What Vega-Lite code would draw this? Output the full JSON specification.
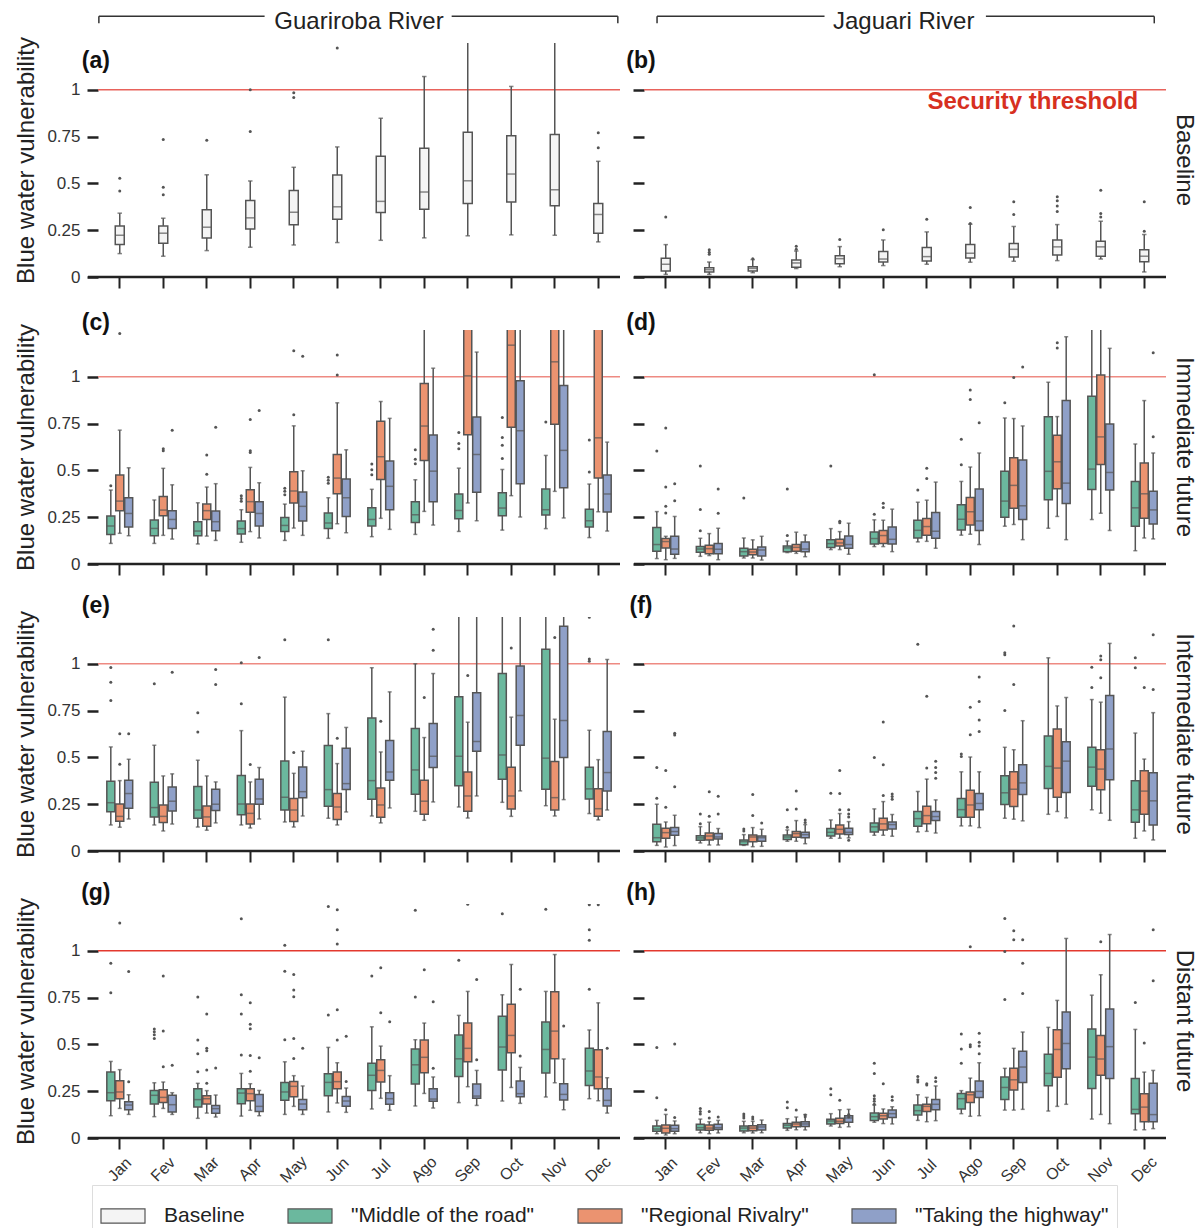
{
"$schema":"https://vega.github.io/schema/vega-lite/v6.json",
"padding":{"left":14,"top":10,"right":2,"bottom":0},
"background":"white",
"datasets":{
"threshold":[{"threshold":1}],
"box_a":[
{"month":"Jan","scenario":"Baseline","min":0.125,"q1":0.173,"median":0.223,"q3":0.273,"max":0.341},
{"month":"Fev","scenario":"Baseline","min":0.111,"q1":0.18,"median":0.234,"q3":0.273,"max":0.314},
{"month":"Mar","scenario":"Baseline","min":0.141,"q1":0.209,"median":0.266,"q3":0.359,"max":0.546},
{"month":"Apr","scenario":"Baseline","min":0.159,"q1":0.257,"median":0.316,"q3":0.409,"max":0.513},
{"month":"May","scenario":"Baseline","min":0.171,"q1":0.279,"median":0.346,"q3":0.4625,"max":0.586},
{"month":"Jun","scenario":"Baseline","min":0.184,"q1":0.309,"median":0.375,"q3":0.545,"max":0.695},
{"month":"Jul","scenario":"Baseline","min":0.196,"q1":0.345,"median":0.404,"q3":0.645,"max":0.848},
{"month":"Ago","scenario":"Baseline","min":0.209,"q1":0.3625,"median":0.454,"q3":0.6875,"max":1.071},
{"month":"Sep","scenario":"Baseline","min":0.22,"q1":0.393,"median":0.514,"q3":0.773,"max":1.45},
{"month":"Oct","scenario":"Baseline","min":0.225,"q1":0.4,"median":0.55,"q3":0.755,"max":1.018},
{"month":"Nov","scenario":"Baseline","min":0.223,"q1":0.38,"median":0.466,"q3":0.761,"max":1.42},
{"month":"Dec","scenario":"Baseline","min":0.1875,"q1":0.234,"median":0.334,"q3":0.393,"max":0.618}],
"out_a":[
{"month":"Jan","scenario":"Baseline","value":0.527},{"month":"Jan","scenario":"Baseline","value":0.459},
{"month":"Fev","scenario":"Baseline","value":0.734},{"month":"Fev","scenario":"Baseline","value":0.479},{"month":"Fev","scenario":"Baseline","value":0.439},
{"month":"Mar","scenario":"Baseline","value":0.73},
{"month":"Apr","scenario":"Baseline","value":1.0},{"month":"Apr","scenario":"Baseline","value":0.777},
{"month":"May","scenario":"Baseline","value":0.984},{"month":"May","scenario":"Baseline","value":0.959},
{"month":"Jun","scenario":"Baseline","value":1.223},
{"month":"Dec","scenario":"Baseline","value":0.771},{"month":"Dec","scenario":"Baseline","value":0.691}],
"box_b":[
{"month":"Jan","scenario":"Baseline","min":0.014,"q1":0.032,"median":0.068,"q3":0.1,"max":0.173},
{"month":"Fev","scenario":"Baseline","min":0.014,"q1":0.027,"median":0.039,"q3":0.05,"max":0.08},
{"month":"Mar","scenario":"Baseline","min":0.023,"q1":0.032,"median":0.046,"q3":0.055,"max":0.093},
{"month":"Apr","scenario":"Baseline","min":0.045,"q1":0.052,"median":0.075,"q3":0.091,"max":0.139},
{"month":"May","scenario":"Baseline","min":0.055,"q1":0.071,"median":0.098,"q3":0.114,"max":0.1625},
{"month":"Jun","scenario":"Baseline","min":0.061,"q1":0.08,"median":0.096,"q3":0.136,"max":0.198},
{"month":"Jul","scenario":"Baseline","min":0.068,"q1":0.086,"median":0.109,"q3":0.157,"max":0.241},
{"month":"Ago","scenario":"Baseline","min":0.079,"q1":0.102,"median":0.127,"q3":0.173,"max":0.282},
{"month":"Sep","scenario":"Baseline","min":0.084,"q1":0.107,"median":0.148,"q3":0.179,"max":0.27},
{"month":"Oct","scenario":"Baseline","min":0.0875,"q1":0.118,"median":0.161,"q3":0.198,"max":0.28},
{"month":"Nov","scenario":"Baseline","min":0.096,"q1":0.111,"median":0.161,"q3":0.191,"max":0.298},
{"month":"Dec","scenario":"Baseline","min":0.027,"q1":0.082,"median":0.111,"q3":0.145,"max":0.227}],
"out_b":[
{"month":"Jan","scenario":"Baseline","value":0.32},
{"month":"Fev","scenario":"Baseline","value":0.145},{"month":"Fev","scenario":"Baseline","value":0.132},{"month":"Fev","scenario":"Baseline","value":0.121},
{"month":"Mar","scenario":"Baseline","value":0.098},
{"month":"Apr","scenario":"Baseline","value":0.164},{"month":"Apr","scenario":"Baseline","value":0.148},
{"month":"May","scenario":"Baseline","value":0.2},
{"month":"Jun","scenario":"Baseline","value":0.252},
{"month":"Jul","scenario":"Baseline","value":0.309},
{"month":"Ago","scenario":"Baseline","value":0.371},{"month":"Ago","scenario":"Baseline","value":0.286},
{"month":"Sep","scenario":"Baseline","value":0.402},{"month":"Sep","scenario":"Baseline","value":0.334},
{"month":"Oct","scenario":"Baseline","value":0.429},{"month":"Oct","scenario":"Baseline","value":0.407},{"month":"Oct","scenario":"Baseline","value":0.379},{"month":"Oct","scenario":"Baseline","value":0.35},
{"month":"Nov","scenario":"Baseline","value":0.464},{"month":"Nov","scenario":"Baseline","value":0.339},{"month":"Nov","scenario":"Baseline","value":0.321},
{"month":"Dec","scenario":"Baseline","value":0.402},{"month":"Dec","scenario":"Baseline","value":0.245}],
"box_c":[
{"month":"Jan","scenario":"Middle of the road","min":0.11,"q1":0.158,"median":0.203,"q3":0.256,"max":0.395},
{"month":"Jan","scenario":"Regional Rivalry","min":0.164,"q1":0.285,"median":0.336,"q3":0.475,"max":0.715},
{"month":"Jan","scenario":"Taking the highway","min":0.151,"q1":0.1975,"median":0.27,"q3":0.354,"max":0.514},
{"month":"Fev","scenario":"Middle of the road","min":0.11,"q1":0.151,"median":0.19,"q3":0.235,"max":0.342},
{"month":"Fev","scenario":"Regional Rivalry","min":0.153,"q1":0.258,"median":0.288,"q3":0.361,"max":0.511},
{"month":"Fev","scenario":"Taking the highway","min":0.133,"q1":0.189,"median":0.238,"q3":0.285,"max":0.423},
{"month":"Mar","scenario":"Middle of the road","min":0.107,"q1":0.151,"median":0.176,"q3":0.226,"max":0.327},
{"month":"Mar","scenario":"Regional Rivalry","min":0.149,"q1":0.238,"median":0.285,"q3":0.32,"max":0.411},
{"month":"Mar","scenario":"Taking the highway","min":0.126,"q1":0.178,"median":0.226,"q3":0.283,"max":0.429},
{"month":"Apr","scenario":"Middle of the road","min":0.116,"q1":0.16,"median":0.189,"q3":0.23,"max":0.29},
{"month":"Apr","scenario":"Regional Rivalry","min":0.173,"q1":0.276,"median":0.333,"q3":0.397,"max":0.516},
{"month":"Apr","scenario":"Taking the highway","min":0.139,"q1":0.203,"median":0.27,"q3":0.333,"max":0.434},
{"month":"May","scenario":"Middle of the road","min":0.126,"q1":0.174,"median":0.206,"q3":0.249,"max":0.32},
{"month":"May","scenario":"Regional Rivalry","min":0.192,"q1":0.326,"median":0.39,"q3":0.493,"max":0.738},
{"month":"May","scenario":"Taking the highway","min":0.153,"q1":0.23,"median":0.308,"q3":0.384,"max":0.498},
{"month":"Jun","scenario":"Middle of the road","min":0.137,"q1":0.19,"median":0.219,"q3":0.272,"max":0.354},
{"month":"Jun","scenario":"Regional Rivalry","min":0.215,"q1":0.375,"median":0.459,"q3":0.585,"max":0.861},
{"month":"Jun","scenario":"Taking the highway","min":0.167,"q1":0.254,"median":0.354,"q3":0.454,"max":0.61},
{"month":"Jul","scenario":"Middle of the road","min":0.146,"q1":0.203,"median":0.238,"q3":0.301,"max":0.399},
{"month":"Jul","scenario":"Regional Rivalry","min":0.244,"q1":0.452,"median":0.573,"q3":0.763,"max":0.868},
{"month":"Jul","scenario":"Taking the highway","min":0.185,"q1":0.29,"median":0.415,"q3":0.55,"max":0.778},
{"month":"Ago","scenario":"Middle of the road","min":0.158,"q1":0.222,"median":0.263,"q3":0.333,"max":0.45},
{"month":"Ago","scenario":"Regional Rivalry","min":0.281,"q1":0.553,"median":0.737,"q3":0.964,"max":1.45},
{"month":"Ago","scenario":"Taking the highway","min":0.208,"q1":0.333,"median":0.496,"q3":0.689,"max":1.046},
{"month":"Sep","scenario":"Middle of the road","min":0.174,"q1":0.242,"median":0.286,"q3":0.374,"max":0.512},
{"month":"Sep","scenario":"Regional Rivalry","min":0.326,"q1":0.69,"median":1.005,"q3":1.35,"max":1.5},
{"month":"Sep","scenario":"Taking the highway","min":0.231,"q1":0.383,"median":0.585,"q3":0.785,"max":1.132},
{"month":"Oct","scenario":"Middle of the road","min":0.181,"q1":0.258,"median":0.299,"q3":0.381,"max":0.505},
{"month":"Oct","scenario":"Regional Rivalry","min":0.365,"q1":0.731,"median":1.169,"q3":1.4,"max":1.5},
{"month":"Oct","scenario":"Taking the highway","min":0.251,"q1":0.429,"median":0.712,"q3":0.979,"max":1.45},
{"month":"Nov","scenario":"Middle of the road","min":0.189,"q1":0.262,"median":0.29,"q3":0.4,"max":0.58},
{"month":"Nov","scenario":"Regional Rivalry","min":0.388,"q1":0.747,"median":1.08,"q3":1.38,"max":1.5},
{"month":"Nov","scenario":"Taking the highway","min":0.246,"q1":0.407,"median":0.607,"q3":0.954,"max":1.45},
{"month":"Dec","scenario":"Middle of the road","min":0.141,"q1":0.1975,"median":0.231,"q3":0.292,"max":0.427},
{"month":"Dec","scenario":"Regional Rivalry","min":0.279,"q1":0.459,"median":0.674,"q3":1.3,"max":1.5},
{"month":"Dec","scenario":"Taking the highway","min":0.176,"q1":0.278,"median":0.374,"q3":0.475,"max":0.651}],
"out_c":[
{"month":"Jan","scenario":"Middle of the road","value":0.418},{"month":"Jan","scenario":"Regional Rivalry","value":1.231},
{"month":"Fev","scenario":"Regional Rivalry","value":0.616},{"month":"Fev","scenario":"Regional Rivalry","value":0.605},{"month":"Fev","scenario":"Taking the highway","value":0.715},
{"month":"Mar","scenario":"Regional Rivalry","value":0.582},{"month":"Mar","scenario":"Regional Rivalry","value":0.479},{"month":"Mar","scenario":"Taking the highway","value":0.73},
{"month":"Apr","scenario":"Middle of the road","value":0.365},{"month":"Apr","scenario":"Middle of the road","value":0.35},{"month":"Apr","scenario":"Middle of the road","value":0.335},
{"month":"Apr","scenario":"Regional Rivalry","value":0.772},{"month":"Apr","scenario":"Regional Rivalry","value":0.605},{"month":"Apr","scenario":"Regional Rivalry","value":0.596},{"month":"Apr","scenario":"Taking the highway","value":0.82},
{"month":"May","scenario":"Middle of the road","value":0.404},{"month":"May","scenario":"Middle of the road","value":0.388},{"month":"May","scenario":"Middle of the road","value":0.37},
{"month":"May","scenario":"Regional Rivalry","value":1.139},{"month":"May","scenario":"Regional Rivalry","value":0.797},{"month":"May","scenario":"Taking the highway","value":1.11},
{"month":"Jun","scenario":"Middle of the road","value":0.463},{"month":"Jun","scenario":"Middle of the road","value":0.448},{"month":"Jun","scenario":"Middle of the road","value":0.432},
{"month":"Jun","scenario":"Regional Rivalry","value":1.117},{"month":"Jun","scenario":"Regional Rivalry","value":1.009},
{"month":"Jul","scenario":"Middle of the road","value":0.534},{"month":"Jul","scenario":"Middle of the road","value":0.504},{"month":"Jul","scenario":"Middle of the road","value":0.477},
{"month":"Ago","scenario":"Middle of the road","value":0.61},{"month":"Ago","scenario":"Middle of the road","value":0.559},{"month":"Ago","scenario":"Middle of the road","value":0.536},
{"month":"Sep","scenario":"Middle of the road","value":0.703},{"month":"Sep","scenario":"Middle of the road","value":0.644},{"month":"Sep","scenario":"Middle of the road","value":0.616},
{"month":"Oct","scenario":"Middle of the road","value":0.783},{"month":"Oct","scenario":"Middle of the road","value":0.676},{"month":"Oct","scenario":"Middle of the road","value":0.635},{"month":"Oct","scenario":"Middle of the road","value":0.564},
{"month":"Nov","scenario":"Middle of the road","value":0.758},
{"month":"Dec","scenario":"Middle of the road","value":0.662},{"month":"Dec","scenario":"Middle of the road","value":0.491}],
"box_d":[
{"month":"Jan","scenario":"Middle of the road","min":0.029,"q1":0.068,"median":0.104,"q3":0.195,"max":0.28},
{"month":"Jan","scenario":"Regional Rivalry","min":0.023,"q1":0.086,"median":0.12,"q3":0.136,"max":0.148},
{"month":"Jan","scenario":"Taking the highway","min":0.03,"q1":0.052,"median":0.08,"q3":0.148,"max":0.254},
{"month":"Fev","scenario":"Middle of the road","min":0.041,"q1":0.0625,"median":0.08,"q3":0.093,"max":0.1375},
{"month":"Fev","scenario":"Regional Rivalry","min":0.045,"q1":0.055,"median":0.082,"q3":0.1,"max":0.1625},
{"month":"Fev","scenario":"Taking the highway","min":0.023,"q1":0.055,"median":0.079,"q3":0.109,"max":0.191},
{"month":"Mar","scenario":"Middle of the road","min":0.032,"q1":0.043,"median":0.066,"q3":0.084,"max":0.139},
{"month":"Mar","scenario":"Regional Rivalry","min":0.032,"q1":0.05,"median":0.064,"q3":0.079,"max":0.129},
{"month":"Mar","scenario":"Taking the highway","min":0.021,"q1":0.043,"median":0.075,"q3":0.091,"max":0.148},
{"month":"Apr","scenario":"Middle of the road","min":0.061,"q1":0.066,"median":0.086,"q3":0.096,"max":0.123},
{"month":"Apr","scenario":"Regional Rivalry","min":0.057,"q1":0.068,"median":0.089,"q3":0.104,"max":0.17},
{"month":"Apr","scenario":"Taking the highway","min":0.039,"q1":0.066,"median":0.08,"q3":0.118,"max":0.155},
{"month":"May","scenario":"Middle of the road","min":0.077,"q1":0.0875,"median":0.109,"q3":0.13,"max":0.189},
{"month":"May","scenario":"Regional Rivalry","min":0.077,"q1":0.096,"median":0.1125,"q3":0.132,"max":0.173},
{"month":"May","scenario":"Taking the highway","min":0.052,"q1":0.084,"median":0.104,"q3":0.15,"max":0.218},
{"month":"Jun","scenario":"Middle of the road","min":0.093,"q1":0.107,"median":0.136,"q3":0.171,"max":0.236},
{"month":"Jun","scenario":"Regional Rivalry","min":0.093,"q1":0.109,"median":0.152,"q3":0.179,"max":0.234},
{"month":"Jun","scenario":"Taking the highway","min":0.066,"q1":0.107,"median":0.132,"q3":0.198,"max":0.293},
{"month":"Jul","scenario":"Middle of the road","min":0.118,"q1":0.139,"median":0.18,"q3":0.234,"max":0.33},
{"month":"Jul","scenario":"Regional Rivalry","min":0.121,"q1":0.154,"median":0.2,"q3":0.243,"max":0.341},
{"month":"Jul","scenario":"Taking the highway","min":0.084,"q1":0.1375,"median":0.175,"q3":0.275,"max":0.4375},
{"month":"Ago","scenario":"Middle of the road","min":0.154,"q1":0.182,"median":0.239,"q3":0.316,"max":0.441},
{"month":"Ago","scenario":"Regional Rivalry","min":0.159,"q1":0.209,"median":0.279,"q3":0.355,"max":0.518},
{"month":"Ago","scenario":"Taking the highway","min":0.104,"q1":0.179,"median":0.23,"q3":0.4,"max":0.593},
{"month":"Sep","scenario":"Middle of the road","min":0.202,"q1":0.25,"median":0.336,"q3":0.495,"max":0.78},
{"month":"Sep","scenario":"Regional Rivalry","min":0.211,"q1":0.298,"median":0.42,"q3":0.568,"max":0.777},
{"month":"Sep","scenario":"Taking the highway","min":0.13,"q1":0.2375,"median":0.311,"q3":0.555,"max":0.7375},
{"month":"Oct","scenario":"Middle of the road","min":0.191,"q1":0.343,"median":0.495,"q3":0.786,"max":0.971},
{"month":"Oct","scenario":"Regional Rivalry","min":0.254,"q1":0.402,"median":0.546,"q3":0.6875,"max":0.7875},
{"month":"Oct","scenario":"Taking the highway","min":0.13,"q1":0.323,"median":0.432,"q3":0.873,"max":1.214},
{"month":"Nov","scenario":"Middle of the road","min":0.2375,"q1":0.398,"median":0.507,"q3":0.896,"max":1.45},
{"month":"Nov","scenario":"Regional Rivalry","min":0.271,"q1":0.532,"median":0.679,"q3":1.009,"max":1.45},
{"month":"Nov","scenario":"Taking the highway","min":0.179,"q1":0.395,"median":0.489,"q3":0.748,"max":1.152},
{"month":"Dec","scenario":"Middle of the road","min":0.071,"q1":0.202,"median":0.3,"q3":0.441,"max":0.641},
{"month":"Dec","scenario":"Regional Rivalry","min":0.139,"q1":0.245,"median":0.375,"q3":0.539,"max":0.873},
{"month":"Dec","scenario":"Taking the highway","min":0.134,"q1":0.214,"median":0.289,"q3":0.389,"max":0.593}],
"out_d":[
{"month":"Jan","scenario":"Middle of the road","value":0.604},
{"month":"Jan","scenario":"Regional Rivalry","value":0.727},{"month":"Jan","scenario":"Regional Rivalry","value":0.411},{"month":"Jan","scenario":"Regional Rivalry","value":0.309},{"month":"Jan","scenario":"Regional Rivalry","value":0.273},
{"month":"Jan","scenario":"Taking the highway","value":0.429},{"month":"Jan","scenario":"Taking the highway","value":0.3375},
{"month":"Fev","scenario":"Middle of the road","value":0.523},{"month":"Fev","scenario":"Middle of the road","value":0.291},{"month":"Fev","scenario":"Middle of the road","value":0.177},
{"month":"Fev","scenario":"Taking the highway","value":0.4},{"month":"Fev","scenario":"Taking the highway","value":0.271},
{"month":"Mar","scenario":"Middle of the road","value":0.352},
{"month":"Apr","scenario":"Middle of the road","value":0.4},{"month":"Apr","scenario":"Middle of the road","value":0.152},
{"month":"May","scenario":"Middle of the road","value":0.523},{"month":"May","scenario":"Regional Rivalry","value":0.229},{"month":"May","scenario":"Regional Rivalry","value":0.22},
{"month":"Jun","scenario":"Middle of the road","value":1.011},{"month":"Jun","scenario":"Middle of the road","value":0.266},{"month":"Jun","scenario":"Regional Rivalry","value":0.325},{"month":"Jun","scenario":"Regional Rivalry","value":0.302},
{"month":"Jul","scenario":"Middle of the road","value":0.395},{"month":"Jul","scenario":"Regional Rivalry","value":0.511},{"month":"Jul","scenario":"Regional Rivalry","value":0.457},
{"month":"Ago","scenario":"Middle of the road","value":0.666},{"month":"Ago","scenario":"Middle of the road","value":0.53},{"month":"Ago","scenario":"Regional Rivalry","value":0.929},{"month":"Ago","scenario":"Regional Rivalry","value":0.879},{"month":"Ago","scenario":"Taking the highway","value":0.754},
{"month":"Sep","scenario":"Middle of the road","value":0.861},{"month":"Sep","scenario":"Regional Rivalry","value":0.996},{"month":"Sep","scenario":"Taking the highway","value":1.052},
{"month":"Oct","scenario":"Regional Rivalry","value":1.182},{"month":"Oct","scenario":"Regional Rivalry","value":1.154},
{"month":"Dec","scenario":"Taking the highway","value":1.129},{"month":"Dec","scenario":"Taking the highway","value":0.68}],
"box_e":[
{"month":"Jan","scenario":"Middle of the road","min":0.139,"q1":0.21,"median":0.258,"q3":0.3725,"max":0.556},
{"month":"Jan","scenario":"Regional Rivalry","min":0.127,"q1":0.159,"median":0.185,"q3":0.251,"max":0.376},
{"month":"Jan","scenario":"Taking the highway","min":0.171,"q1":0.228,"median":0.307,"q3":0.378,"max":0.49},
{"month":"Fev","scenario":"Middle of the road","min":0.139,"q1":0.182,"median":0.232,"q3":0.367,"max":0.565},
{"month":"Fev","scenario":"Regional Rivalry","min":0.107,"q1":0.152,"median":0.185,"q3":0.246,"max":0.401},
{"month":"Fev","scenario":"Taking the highway","min":0.144,"q1":0.214,"median":0.266,"q3":0.342,"max":0.412},
{"month":"Mar","scenario":"Middle of the road","min":0.128,"q1":0.175,"median":0.219,"q3":0.344,"max":0.485},
{"month":"Mar","scenario":"Regional Rivalry","min":0.111,"q1":0.132,"median":0.182,"q3":0.241,"max":0.401},
{"month":"Mar","scenario":"Taking the highway","min":0.15,"q1":0.216,"median":0.25,"q3":0.33,"max":0.369},
{"month":"Apr","scenario":"Middle of the road","min":0.139,"q1":0.194,"median":0.251,"q3":0.403,"max":0.643},
{"month":"Apr","scenario":"Regional Rivalry","min":0.123,"q1":0.144,"median":0.201,"q3":0.251,"max":0.369},
{"month":"Apr","scenario":"Taking the highway","min":0.171,"q1":0.25,"median":0.278,"q3":0.383,"max":0.446},
{"month":"May","scenario":"Middle of the road","min":0.155,"q1":0.219,"median":0.287,"q3":0.481,"max":0.822},
{"month":"May","scenario":"Regional Rivalry","min":0.128,"q1":0.157,"median":0.219,"q3":0.28,"max":0.415},
{"month":"May","scenario":"Taking the highway","min":0.187,"q1":0.285,"median":0.317,"q3":0.449,"max":0.533},
{"month":"Jun","scenario":"Middle of the road","min":0.175,"q1":0.239,"median":0.328,"q3":0.563,"max":0.734},
{"month":"Jun","scenario":"Regional Rivalry","min":0.139,"q1":0.168,"median":0.235,"q3":0.307,"max":0.467},
{"month":"Jun","scenario":"Taking the highway","min":0.2085,"q1":0.328,"median":0.36,"q3":0.549,"max":0.66},
{"month":"Jul","scenario":"Middle of the road","min":0.187,"q1":0.276,"median":0.376,"q3":0.711,"max":0.979},
{"month":"Jul","scenario":"Regional Rivalry","min":0.15,"q1":0.18,"median":0.246,"q3":0.337,"max":0.529},
{"month":"Jul","scenario":"Taking the highway","min":0.23,"q1":0.378,"median":0.422,"q3":0.59,"max":0.85},
{"month":"Ago","scenario":"Middle of the road","min":0.212,"q1":0.303,"median":0.433,"q3":0.654,"max":1.0},
{"month":"Ago","scenario":"Regional Rivalry","min":0.164,"q1":0.196,"median":0.266,"q3":0.378,"max":0.606},
{"month":"Ago","scenario":"Taking the highway","min":0.262,"q1":0.446,"median":0.506,"q3":0.681,"max":0.948},
{"month":"Sep","scenario":"Middle of the road","min":0.235,"q1":0.349,"median":0.506,"q3":0.824,"max":1.45},
{"month":"Sep","scenario":"Regional Rivalry","min":0.176,"q1":0.212,"median":0.294,"q3":0.422,"max":0.688},
{"month":"Sep","scenario":"Taking the highway","min":0.294,"q1":0.533,"median":0.585,"q3":0.845,"max":1.45},
{"month":"Oct","scenario":"Middle of the road","min":0.26,"q1":0.383,"median":0.513,"q3":0.948,"max":1.45},
{"month":"Oct","scenario":"Regional Rivalry","min":0.185,"q1":0.2245,"median":0.294,"q3":0.447,"max":0.715},
{"month":"Oct","scenario":"Taking the highway","min":0.321,"q1":0.565,"median":0.724,"q3":0.988,"max":1.45},
{"month":"Nov","scenario":"Middle of the road","min":0.242,"q1":0.33,"median":0.496,"q3":1.078,"max":1.45},
{"month":"Nov","scenario":"Regional Rivalry","min":0.187,"q1":0.219,"median":0.285,"q3":0.478,"max":0.704},
{"month":"Nov","scenario":"Taking the highway","min":0.2745,"q1":0.499,"median":0.697,"q3":1.201,"max":1.45},
{"month":"Dec","scenario":"Middle of the road","min":0.2,"q1":0.278,"median":0.332,"q3":0.447,"max":0.645},
{"month":"Dec","scenario":"Regional Rivalry","min":0.166,"q1":0.185,"median":0.226,"q3":0.332,"max":0.488},
{"month":"Dec","scenario":"Taking the highway","min":0.219,"q1":0.321,"median":0.419,"q3":0.638,"max":1.023}],
"out_e":[
{"month":"Jan","scenario":"Middle of the road","value":0.98},{"month":"Jan","scenario":"Middle of the road","value":0.902},{"month":"Jan","scenario":"Middle of the road","value":0.804},
{"month":"Jan","scenario":"Regional Rivalry","value":0.626},{"month":"Jan","scenario":"Regional Rivalry","value":0.463},{"month":"Jan","scenario":"Taking the highway","value":0.626},
{"month":"Fev","scenario":"Middle of the road","value":0.893},{"month":"Fev","scenario":"Taking the highway","value":0.955},
{"month":"Mar","scenario":"Middle of the road","value":0.738},{"month":"Mar","scenario":"Middle of the road","value":0.636},{"month":"Mar","scenario":"Taking the highway","value":0.97},{"month":"Mar","scenario":"Taking the highway","value":0.889},
{"month":"Apr","scenario":"Middle of the road","value":1.005},{"month":"Apr","scenario":"Middle of the road","value":0.786},{"month":"Apr","scenario":"Regional Rivalry","value":0.462},{"month":"Apr","scenario":"Taking the highway","value":1.034},
{"month":"May","scenario":"Middle of the road","value":1.128},{"month":"May","scenario":"Regional Rivalry","value":0.526},
{"month":"Jun","scenario":"Middle of the road","value":1.128},{"month":"Jun","scenario":"Regional Rivalry","value":0.602},
{"month":"Jul","scenario":"Regional Rivalry","value":0.693},
{"month":"Ago","scenario":"Regional Rivalry","value":0.82},{"month":"Ago","scenario":"Taking the highway","value":1.185},{"month":"Ago","scenario":"Taking the highway","value":1.073},
{"month":"Sep","scenario":"Regional Rivalry","value":0.938},
{"month":"Oct","scenario":"Regional Rivalry","value":1.084},
{"month":"Nov","scenario":"Regional Rivalry","value":1.141},
{"month":"Dec","scenario":"Middle of the road","value":1.248},{"month":"Dec","scenario":"Middle of the road","value":1.025},{"month":"Dec","scenario":"Middle of the road","value":1.014}],
"box_f":[
{"month":"Jan","scenario":"Middle of the road","min":0.03,"q1":0.05,"median":0.071,"q3":0.143,"max":0.25},
{"month":"Jan","scenario":"Regional Rivalry","min":0.021,"q1":0.068,"median":0.098,"q3":0.121,"max":0.155},
{"month":"Jan","scenario":"Taking the highway","min":0.029,"q1":0.084,"median":0.104,"q3":0.125,"max":0.191},
{"month":"Fev","scenario":"Middle of the road","min":0.043,"q1":0.057,"median":0.07,"q3":0.082,"max":0.13},
{"month":"Fev","scenario":"Regional Rivalry","min":0.032,"q1":0.059,"median":0.08,"q3":0.096,"max":0.154},
{"month":"Fev","scenario":"Taking the highway","min":0.032,"q1":0.064,"median":0.075,"q3":0.093,"max":0.12},
{"month":"Mar","scenario":"Middle of the road","min":0.03,"q1":0.034,"median":0.05,"q3":0.059,"max":0.0875},
{"month":"Mar","scenario":"Regional Rivalry","min":0.023,"q1":0.05,"median":0.075,"q3":0.086,"max":0.125},
{"month":"Mar","scenario":"Taking the highway","min":0.025,"q1":0.052,"median":0.071,"q3":0.08,"max":0.116},
{"month":"Apr","scenario":"Middle of the road","min":0.052,"q1":0.061,"median":0.075,"q3":0.086,"max":0.1125},
{"month":"Apr","scenario":"Regional Rivalry","min":0.052,"q1":0.073,"median":0.093,"q3":0.104,"max":0.1625},
{"month":"Apr","scenario":"Taking the highway","min":0.039,"q1":0.071,"median":0.0875,"q3":0.1,"max":0.141},
{"month":"May","scenario":"Middle of the road","min":0.068,"q1":0.08,"median":0.1,"q3":0.12,"max":0.166},
{"month":"May","scenario":"Regional Rivalry","min":0.068,"q1":0.091,"median":0.116,"q3":0.139,"max":0.2},
{"month":"May","scenario":"Taking the highway","min":0.07,"q1":0.0875,"median":0.1,"q3":0.121,"max":0.157},
{"month":"Jun","scenario":"Middle of the road","min":0.084,"q1":0.102,"median":0.129,"q3":0.15,"max":0.225},
{"month":"Jun","scenario":"Regional Rivalry","min":0.084,"q1":0.1125,"median":0.145,"q3":0.175,"max":0.264},
{"month":"Jun","scenario":"Taking the highway","min":0.079,"q1":0.118,"median":0.141,"q3":0.155,"max":0.195},
{"month":"Jul","scenario":"Middle of the road","min":0.102,"q1":0.132,"median":0.173,"q3":0.211,"max":0.318},
{"month":"Jul","scenario":"Regional Rivalry","min":0.105,"q1":0.145,"median":0.189,"q3":0.239,"max":0.384},
{"month":"Jul","scenario":"Taking the highway","min":0.096,"q1":0.1625,"median":0.184,"q3":0.211,"max":0.273},
{"month":"Ago","scenario":"Middle of the road","min":0.134,"q1":0.18,"median":0.221,"q3":0.28,"max":0.423},
{"month":"Ago","scenario":"Regional Rivalry","min":0.134,"q1":0.18,"median":0.246,"q3":0.325,"max":0.502},
{"month":"Ago","scenario":"Taking the highway","min":0.125,"q1":0.22,"median":0.254,"q3":0.307,"max":0.423},
{"month":"Sep","scenario":"Middle of the road","min":0.175,"q1":0.248,"median":0.311,"q3":0.402,"max":0.554},
{"month":"Sep","scenario":"Regional Rivalry","min":0.17,"q1":0.2375,"median":0.33,"q3":0.423,"max":0.541},
{"month":"Sep","scenario":"Taking the highway","min":0.161,"q1":0.302,"median":0.364,"q3":0.461,"max":0.696},
{"month":"Oct","scenario":"Middle of the road","min":0.196,"q1":0.334,"median":0.452,"q3":0.614,"max":1.032},
{"month":"Oct","scenario":"Regional Rivalry","min":0.211,"q1":0.2875,"median":0.443,"q3":0.652,"max":0.775},
{"month":"Oct","scenario":"Taking the highway","min":0.177,"q1":0.3125,"median":0.48,"q3":0.584,"max":0.82},
{"month":"Nov","scenario":"Middle of the road","min":0.22,"q1":0.346,"median":0.448,"q3":0.554,"max":0.809},
{"month":"Nov","scenario":"Regional Rivalry","min":0.202,"q1":0.327,"median":0.4375,"q3":0.541,"max":0.795},
{"month":"Nov","scenario":"Taking the highway","min":0.164,"q1":0.38,"median":0.545,"q3":0.83,"max":1.109},
{"month":"Dec","scenario":"Middle of the road","min":0.068,"q1":0.154,"median":0.22,"q3":0.375,"max":0.63},
{"month":"Dec","scenario":"Regional Rivalry","min":0.107,"q1":0.196,"median":0.32,"q3":0.429,"max":0.491},
{"month":"Dec","scenario":"Taking the highway","min":0.059,"q1":0.139,"median":0.268,"q3":0.418,"max":0.739}],
"out_f":[
{"month":"Jan","scenario":"Middle of the road","value":0.446},{"month":"Jan","scenario":"Middle of the road","value":0.282},
{"month":"Jan","scenario":"Regional Rivalry","value":0.43},{"month":"Jan","scenario":"Regional Rivalry","value":0.234},
{"month":"Jan","scenario":"Taking the highway","value":0.629},{"month":"Jan","scenario":"Taking the highway","value":0.62},{"month":"Jan","scenario":"Taking the highway","value":0.343},
{"month":"Fev","scenario":"Middle of the road","value":0.198},{"month":"Fev","scenario":"Middle of the road","value":0.145},
{"month":"Fev","scenario":"Regional Rivalry","value":0.316},{"month":"Fev","scenario":"Regional Rivalry","value":0.186},
{"month":"Fev","scenario":"Taking the highway","value":0.293},{"month":"Fev","scenario":"Taking the highway","value":0.198},
{"month":"Mar","scenario":"Middle of the road","value":0.118},{"month":"Mar","scenario":"Middle of the road","value":0.107},
{"month":"Mar","scenario":"Regional Rivalry","value":0.302},{"month":"Mar","scenario":"Regional Rivalry","value":0.189},{"month":"Mar","scenario":"Taking the highway","value":0.15},
{"month":"Apr","scenario":"Middle of the road","value":0.221},{"month":"Apr","scenario":"Middle of the road","value":0.127},
{"month":"Apr","scenario":"Regional Rivalry","value":0.321},{"month":"Apr","scenario":"Regional Rivalry","value":0.225},
{"month":"Apr","scenario":"Taking the highway","value":0.166},{"month":"Apr","scenario":"Taking the highway","value":0.152},
{"month":"May","scenario":"Middle of the road","value":0.309},
{"month":"May","scenario":"Regional Rivalry","value":0.43},{"month":"May","scenario":"Regional Rivalry","value":0.307},{"month":"May","scenario":"Regional Rivalry","value":0.22},
{"month":"May","scenario":"Taking the highway","value":0.22},{"month":"May","scenario":"Taking the highway","value":0.198},{"month":"May","scenario":"Taking the highway","value":0.182},{"month":"May","scenario":"Taking the highway","value":0.057},
{"month":"Jun","scenario":"Middle of the road","value":0.5},
{"month":"Jun","scenario":"Regional Rivalry","value":0.689},{"month":"Jun","scenario":"Regional Rivalry","value":0.461},{"month":"Jun","scenario":"Regional Rivalry","value":0.296},
{"month":"Jun","scenario":"Taking the highway","value":0.304},{"month":"Jun","scenario":"Taking the highway","value":0.291},{"month":"Jun","scenario":"Taking the highway","value":0.277},
{"month":"Jul","scenario":"Middle of the road","value":1.104},
{"month":"Jul","scenario":"Regional Rivalry","value":0.827},{"month":"Jul","scenario":"Regional Rivalry","value":0.443},
{"month":"Jul","scenario":"Taking the highway","value":0.479},{"month":"Jul","scenario":"Taking the highway","value":0.446},{"month":"Jul","scenario":"Taking the highway","value":0.42},{"month":"Jul","scenario":"Taking the highway","value":0.389},
{"month":"Ago","scenario":"Middle of the road","value":0.518},{"month":"Ago","scenario":"Middle of the road","value":0.505},
{"month":"Ago","scenario":"Regional Rivalry","value":0.768},{"month":"Ago","scenario":"Regional Rivalry","value":0.621},
{"month":"Ago","scenario":"Taking the highway","value":0.93},{"month":"Ago","scenario":"Taking the highway","value":0.798},{"month":"Ago","scenario":"Taking the highway","value":0.7},{"month":"Ago","scenario":"Taking the highway","value":0.639},
{"month":"Sep","scenario":"Middle of the road","value":1.059},{"month":"Sep","scenario":"Middle of the road","value":1.048},{"month":"Sep","scenario":"Middle of the road","value":0.75},
{"month":"Sep","scenario":"Regional Rivalry","value":1.202},{"month":"Sep","scenario":"Regional Rivalry","value":0.889},
{"month":"Nov","scenario":"Middle of the road","value":0.982},{"month":"Nov","scenario":"Middle of the road","value":0.873},
{"month":"Nov","scenario":"Regional Rivalry","value":1.041},{"month":"Nov","scenario":"Regional Rivalry","value":1.021},{"month":"Nov","scenario":"Regional Rivalry","value":0.925},
{"month":"Dec","scenario":"Middle of the road","value":1.032},{"month":"Dec","scenario":"Middle of the road","value":0.979},
{"month":"Dec","scenario":"Regional Rivalry","value":0.873},
{"month":"Dec","scenario":"Taking the highway","value":1.155},{"month":"Dec","scenario":"Taking the highway","value":0.8625}],
"box_g":[
{"month":"Jan","scenario":"Middle of the road","min":0.119,"q1":0.199,"median":0.242,"q3":0.352,"max":0.409},
{"month":"Jan","scenario":"Regional Rivalry","min":0.158,"q1":0.21,"median":0.246,"q3":0.306,"max":0.365},
{"month":"Jan","scenario":"Taking the highway","min":0.126,"q1":0.151,"median":0.176,"q3":0.194,"max":0.231},
{"month":"Fev","scenario":"Middle of the road","min":0.114,"q1":0.1815,"median":0.228,"q3":0.254,"max":0.295},
{"month":"Fev","scenario":"Regional Rivalry","min":0.158,"q1":0.189,"median":0.217,"q3":0.258,"max":0.299},
{"month":"Fev","scenario":"Taking the highway","min":0.126,"q1":0.139,"median":0.178,"q3":0.228,"max":0.242},
{"month":"Mar","scenario":"Middle of the road","min":0.105,"q1":0.165,"median":0.205,"q3":0.263,"max":0.292},
{"month":"Mar","scenario":"Regional Rivalry","min":0.133,"q1":0.1815,"median":0.21,"q3":0.226,"max":0.253},
{"month":"Mar","scenario":"Taking the highway","min":0.112,"q1":0.132,"median":0.157,"q3":0.174,"max":0.2295},
{"month":"Apr","scenario":"Middle of the road","min":0.117,"q1":0.183,"median":0.24,"q3":0.263,"max":0.345},
{"month":"Apr","scenario":"Regional Rivalry","min":0.148,"q1":0.199,"median":0.237,"q3":0.263,"max":0.29},
{"month":"Apr","scenario":"Taking the highway","min":0.119,"q1":0.142,"median":0.169,"q3":0.233,"max":0.254},
{"month":"May","scenario":"Middle of the road","min":0.126,"q1":0.201,"median":0.246,"q3":0.297,"max":0.407},
{"month":"May","scenario":"Regional Rivalry","min":0.169,"q1":0.221,"median":0.276,"q3":0.302,"max":0.333},
{"month":"May","scenario":"Taking the highway","min":0.126,"q1":0.151,"median":0.1815,"q3":0.205,"max":0.278},
{"month":"Jun","scenario":"Middle of the road","min":0.139,"q1":0.226,"median":0.297,"q3":0.343,"max":0.484},
{"month":"Jun","scenario":"Regional Rivalry","min":0.187,"q1":0.263,"median":0.301,"q3":0.352,"max":0.402},
{"month":"Jun","scenario":"Taking the highway","min":0.137,"q1":0.169,"median":0.1975,"q3":0.222,"max":0.267},
{"month":"Jul","scenario":"Middle of the road","min":0.155,"q1":0.254,"median":0.335,"q3":0.399,"max":0.594},
{"month":"Jul","scenario":"Regional Rivalry","min":0.212,"q1":0.299,"median":0.361,"q3":0.418,"max":0.491},
{"month":"Jul","scenario":"Taking the highway","min":0.148,"q1":0.18,"median":0.21,"q3":0.242,"max":0.333},
{"month":"Ago","scenario":"Middle of the road","min":0.171,"q1":0.288,"median":0.391,"q3":0.475,"max":0.525},
{"month":"Ago","scenario":"Regional Rivalry","min":0.238,"q1":0.349,"median":0.431,"q3":0.523,"max":0.614},
{"month":"Ago","scenario":"Taking the highway","min":0.16,"q1":0.196,"median":0.208,"q3":0.263,"max":0.326},
{"month":"Sep","scenario":"Middle of the road","min":0.189,"q1":0.329,"median":0.423,"q3":0.55,"max":0.655},
{"month":"Sep","scenario":"Regional Rivalry","min":0.274,"q1":0.407,"median":0.479,"q3":0.614,"max":0.783},
{"month":"Sep","scenario":"Taking the highway","min":0.174,"q1":0.212,"median":0.224,"q3":0.288,"max":0.361},
{"month":"Oct","scenario":"Middle of the road","min":0.1975,"q1":0.363,"median":0.486,"q3":0.651,"max":0.765},
{"month":"Oct","scenario":"Regional Rivalry","min":0.27,"q1":0.456,"median":0.548,"q3":0.715,"max":0.927},
{"month":"Oct","scenario":"Taking the highway","min":0.185,"q1":0.221,"median":0.237,"q3":0.304,"max":0.377},
{"month":"Nov","scenario":"Middle of the road","min":0.219,"q1":0.347,"median":0.473,"q3":0.619,"max":0.783},
{"month":"Nov","scenario":"Regional Rivalry","min":0.295,"q1":0.423,"median":0.571,"q3":0.781,"max":0.98},
{"month":"Nov","scenario":"Taking the highway","min":0.151,"q1":0.203,"median":0.233,"q3":0.29,"max":0.422},
{"month":"Dec","scenario":"Middle of the road","min":0.21,"q1":0.281,"median":0.358,"q3":0.479,"max":0.577},
{"month":"Dec","scenario":"Regional Rivalry","min":0.199,"q1":0.263,"median":0.326,"q3":0.472,"max":0.722},
{"month":"Dec","scenario":"Taking the highway","min":0.133,"q1":0.171,"median":0.201,"q3":0.263,"max":0.322}],
"out_g":[
{"month":"Jan","scenario":"Middle of the road","value":0.934},{"month":"Jan","scenario":"Middle of the road","value":0.776},{"month":"Jan","scenario":"Regional Rivalry","value":1.149},
{"month":"Jan","scenario":"Taking the highway","value":0.89},{"month":"Jan","scenario":"Taking the highway","value":0.301},
{"month":"Fev","scenario":"Middle of the road","value":0.582},{"month":"Fev","scenario":"Middle of the road","value":0.568},{"month":"Fev","scenario":"Middle of the road","value":0.552},{"month":"Fev","scenario":"Middle of the road","value":0.532},
{"month":"Fev","scenario":"Regional Rivalry","value":0.865},{"month":"Fev","scenario":"Regional Rivalry","value":0.571},{"month":"Fev","scenario":"Regional Rivalry","value":0.381},{"month":"Fev","scenario":"Taking the highway","value":0.388},
{"month":"Mar","scenario":"Middle of the road","value":0.753},{"month":"Mar","scenario":"Middle of the road","value":0.523},{"month":"Mar","scenario":"Middle of the road","value":0.45},{"month":"Mar","scenario":"Middle of the road","value":0.354},
{"month":"Mar","scenario":"Regional Rivalry","value":0.662},{"month":"Mar","scenario":"Regional Rivalry","value":0.48},{"month":"Mar","scenario":"Regional Rivalry","value":0.466},{"month":"Mar","scenario":"Regional Rivalry","value":0.363},{"month":"Mar","scenario":"Regional Rivalry","value":0.292},
{"month":"Mar","scenario":"Taking the highway","value":0.374},
{"month":"Apr","scenario":"Middle of the road","value":1.171},{"month":"Apr","scenario":"Middle of the road","value":0.765},{"month":"Apr","scenario":"Middle of the road","value":0.662},{"month":"Apr","scenario":"Middle of the road","value":0.443},
{"month":"Apr","scenario":"Regional Rivalry","value":0.722},{"month":"Apr","scenario":"Regional Rivalry","value":0.607},{"month":"Apr","scenario":"Regional Rivalry","value":0.584},{"month":"Apr","scenario":"Regional Rivalry","value":0.441},{"month":"Apr","scenario":"Regional Rivalry","value":0.356},
{"month":"Apr","scenario":"Taking the highway","value":0.429},
{"month":"May","scenario":"Middle of the road","value":1.03},{"month":"May","scenario":"Middle of the road","value":0.891},{"month":"May","scenario":"Middle of the road","value":0.525},
{"month":"May","scenario":"Regional Rivalry","value":0.874},{"month":"May","scenario":"Regional Rivalry","value":0.79},{"month":"May","scenario":"Regional Rivalry","value":0.754},{"month":"May","scenario":"Regional Rivalry","value":0.532},{"month":"May","scenario":"Regional Rivalry","value":0.425},
{"month":"May","scenario":"Taking the highway","value":0.479},
{"month":"Jun","scenario":"Middle of the road","value":1.237},{"month":"Jun","scenario":"Middle of the road","value":0.657},
{"month":"Jun","scenario":"Regional Rivalry","value":1.219},{"month":"Jun","scenario":"Regional Rivalry","value":1.112},{"month":"Jun","scenario":"Regional Rivalry","value":1.036},{"month":"Jun","scenario":"Regional Rivalry","value":0.685},{"month":"Jun","scenario":"Regional Rivalry","value":0.523},
{"month":"Jun","scenario":"Taking the highway","value":0.543},{"month":"Jun","scenario":"Taking the highway","value":0.302},
{"month":"Jul","scenario":"Middle of the road","value":0.865},{"month":"Jul","scenario":"Regional Rivalry","value":0.909},{"month":"Jul","scenario":"Regional Rivalry","value":0.669},{"month":"Jul","scenario":"Taking the highway","value":0.621},
{"month":"Ago","scenario":"Middle of the road","value":1.217},{"month":"Ago","scenario":"Middle of the road","value":0.753},{"month":"Ago","scenario":"Regional Rivalry","value":0.899},
{"month":"Ago","scenario":"Taking the highway","value":0.728},{"month":"Ago","scenario":"Taking the highway","value":0.372},
{"month":"Sep","scenario":"Middle of the road","value":0.95},{"month":"Sep","scenario":"Regional Rivalry","value":1.249},{"month":"Sep","scenario":"Taking the highway","value":0.847},{"month":"Sep","scenario":"Taking the highway","value":0.418},
{"month":"Oct","scenario":"Middle of the road","value":1.198},{"month":"Oct","scenario":"Taking the highway","value":0.795},{"month":"Oct","scenario":"Taking the highway","value":0.438},
{"month":"Nov","scenario":"Middle of the road","value":1.222},{"month":"Nov","scenario":"Taking the highway","value":0.598},
{"month":"Dec","scenario":"Middle of the road","value":1.246},{"month":"Dec","scenario":"Middle of the road","value":1.112},{"month":"Dec","scenario":"Middle of the road","value":1.057},{"month":"Dec","scenario":"Middle of the road","value":0.795},
{"month":"Dec","scenario":"Regional Rivalry","value":1.246},{"month":"Dec","scenario":"Taking the highway","value":0.479}],
"box_h":[
{"month":"Jan","scenario":"Middle of the road","min":0.023,"q1":0.036,"median":0.048,"q3":0.064,"max":0.094},
{"month":"Jan","scenario":"Regional Rivalry","min":0.016,"q1":0.027,"median":0.052,"q3":0.069,"max":0.126},
{"month":"Jan","scenario":"Taking the highway","min":0.023,"q1":0.036,"median":0.05,"q3":0.068,"max":0.091},
{"month":"Fev","scenario":"Middle of the road","min":0.028,"q1":0.043,"median":0.055,"q3":0.073,"max":0.101},
{"month":"Fev","scenario":"Regional Rivalry","min":0.023,"q1":0.041,"median":0.053,"q3":0.069,"max":0.087},
{"month":"Fev","scenario":"Taking the highway","min":0.027,"q1":0.046,"median":0.055,"q3":0.073,"max":0.094},
{"month":"Mar","scenario":"Middle of the road","min":0.028,"q1":0.037,"median":0.053,"q3":0.064,"max":0.089},
{"month":"Mar","scenario":"Regional Rivalry","min":0.027,"q1":0.039,"median":0.053,"q3":0.066,"max":0.089},
{"month":"Mar","scenario":"Taking the highway","min":0.028,"q1":0.043,"median":0.059,"q3":0.071,"max":0.096},
{"month":"Apr","scenario":"Middle of the road","min":0.041,"q1":0.053,"median":0.068,"q3":0.078,"max":0.103},
{"month":"Apr","scenario":"Regional Rivalry","min":0.044,"q1":0.06,"median":0.075,"q3":0.084,"max":0.112},
{"month":"Apr","scenario":"Taking the highway","min":0.043,"q1":0.062,"median":0.075,"q3":0.087,"max":0.125},
{"month":"May","scenario":"Middle of the road","min":0.064,"q1":0.075,"median":0.091,"q3":0.1,"max":0.13},
{"month":"May","scenario":"Regional Rivalry","min":0.057,"q1":0.078,"median":0.089,"q3":0.105,"max":0.151},
{"month":"May","scenario":"Taking the highway","min":0.06,"q1":0.084,"median":0.107,"q3":0.119,"max":0.153},
{"month":"Jun","scenario":"Middle of the road","min":0.084,"q1":0.094,"median":0.114,"q3":0.133,"max":0.176},
{"month":"Jun","scenario":"Regional Rivalry","min":0.077,"q1":0.101,"median":0.119,"q3":0.132,"max":0.155},
{"month":"Jun","scenario":"Taking the highway","min":0.075,"q1":0.11,"median":0.13,"q3":0.149,"max":0.167},
{"month":"Jul","scenario":"Middle of the road","min":0.094,"q1":0.123,"median":0.146,"q3":0.176,"max":0.231},
{"month":"Jul","scenario":"Regional Rivalry","min":0.087,"q1":0.141,"median":0.169,"q3":0.18,"max":0.217},
{"month":"Jul","scenario":"Taking the highway","min":0.0925,"q1":0.151,"median":0.18,"q3":0.205,"max":0.278},
{"month":"Ago","scenario":"Middle of the road","min":0.13,"q1":0.155,"median":0.21,"q3":0.238,"max":0.253},
{"month":"Ago","scenario":"Regional Rivalry","min":0.116,"q1":0.189,"median":0.231,"q3":0.246,"max":0.32},
{"month":"Ago","scenario":"Taking the highway","min":0.119,"q1":0.217,"median":0.249,"q3":0.304,"max":0.402},
{"month":"Sep","scenario":"Middle of the road","min":0.149,"q1":0.206,"median":0.27,"q3":0.326,"max":0.372},
{"month":"Sep","scenario":"Regional Rivalry","min":0.149,"q1":0.256,"median":0.311,"q3":0.372,"max":0.479},
{"month":"Sep","scenario":"Taking the highway","min":0.153,"q1":0.297,"median":0.379,"q3":0.463,"max":0.566},
{"month":"Oct","scenario":"Middle of the road","min":0.144,"q1":0.279,"median":0.345,"q3":0.447,"max":0.591},
{"month":"Oct","scenario":"Regional Rivalry","min":0.169,"q1":0.324,"median":0.473,"q3":0.578,"max":0.735},
{"month":"Oct","scenario":"Taking the highway","min":0.18,"q1":0.37,"median":0.505,"q3":0.673,"max":1.066},
{"month":"Nov","scenario":"Middle of the road","min":0.101,"q1":0.265,"median":0.432,"q3":0.582,"max":0.763},
{"month":"Nov","scenario":"Regional Rivalry","min":0.126,"q1":0.335,"median":0.422,"q3":0.548,"max":0.872},
{"month":"Nov","scenario":"Taking the highway","min":0.0765,"q1":0.318,"median":0.488,"q3":0.689,"max":1.087},
{"month":"Dec","scenario":"Middle of the road","min":0.043,"q1":0.13,"median":0.153,"q3":0.318,"max":0.58},
{"month":"Dec","scenario":"Regional Rivalry","min":0.044,"q1":0.087,"median":0.165,"q3":0.237,"max":0.352},
{"month":"Dec","scenario":"Taking the highway","min":0.05,"q1":0.087,"median":0.125,"q3":0.292,"max":0.361}],
"out_h":[
{"month":"Jan","scenario":"Middle of the road","value":0.484},{"month":"Jan","scenario":"Middle of the road","value":0.215},{"month":"Jan","scenario":"Regional Rivalry","value":0.151},
{"month":"Jan","scenario":"Taking the highway","value":0.502},{"month":"Jan","scenario":"Taking the highway","value":0.109},
{"month":"Fev","scenario":"Middle of the road","value":0.157},{"month":"Fev","scenario":"Middle of the road","value":0.142},{"month":"Fev","scenario":"Middle of the road","value":0.128},
{"month":"Fev","scenario":"Regional Rivalry","value":0.142},{"month":"Fev","scenario":"Regional Rivalry","value":0.107},{"month":"Fev","scenario":"Taking the highway","value":0.112},
{"month":"Mar","scenario":"Middle of the road","value":0.128},{"month":"Mar","scenario":"Middle of the road","value":0.117},{"month":"Mar","scenario":"Middle of the road","value":0.107},
{"month":"Mar","scenario":"Regional Rivalry","value":0.112},{"month":"Mar","scenario":"Regional Rivalry","value":0.101},
{"month":"Apr","scenario":"Middle of the road","value":0.192},{"month":"Apr","scenario":"Middle of the road","value":0.162},{"month":"Apr","scenario":"Regional Rivalry","value":0.149},
{"month":"Apr","scenario":"Taking the highway","value":0.123},{"month":"Apr","scenario":"Taking the highway","value":0.114},
{"month":"May","scenario":"Middle of the road","value":0.263},{"month":"May","scenario":"Middle of the road","value":0.231},{"month":"May","scenario":"Regional Rivalry","value":0.201},
{"month":"May","scenario":"Taking the highway","value":0.125},{"month":"May","scenario":"Taking the highway","value":0.112},
{"month":"Jun","scenario":"Middle of the road","value":0.399},{"month":"Jun","scenario":"Middle of the road","value":0.345},{"month":"Jun","scenario":"Middle of the road","value":0.226},{"month":"Jun","scenario":"Middle of the road","value":0.21},{"month":"Jun","scenario":"Middle of the road","value":0.196},{"month":"Jun","scenario":"Middle of the road","value":0.18},
{"month":"Jun","scenario":"Regional Rivalry","value":0.29},{"month":"Jun","scenario":"Taking the highway","value":0.221},{"month":"Jun","scenario":"Taking the highway","value":0.201},
{"month":"Jul","scenario":"Middle of the road","value":0.329},{"month":"Jul","scenario":"Middle of the road","value":0.311},{"month":"Jul","scenario":"Middle of the road","value":0.299},
{"month":"Jul","scenario":"Regional Rivalry","value":0.29},{"month":"Jul","scenario":"Regional Rivalry","value":0.283},
{"month":"Jul","scenario":"Taking the highway","value":0.322},{"month":"Jul","scenario":"Taking the highway","value":0.302},
{"month":"Ago","scenario":"Middle of the road","value":0.555},{"month":"Ago","scenario":"Middle of the road","value":0.475},{"month":"Ago","scenario":"Middle of the road","value":0.399},
{"month":"Ago","scenario":"Regional Rivalry","value":1.021},{"month":"Ago","scenario":"Regional Rivalry","value":0.498},{"month":"Ago","scenario":"Regional Rivalry","value":0.488},
{"month":"Ago","scenario":"Taking the highway","value":0.56},{"month":"Ago","scenario":"Taking the highway","value":0.511},{"month":"Ago","scenario":"Taking the highway","value":0.491},{"month":"Ago","scenario":"Taking the highway","value":0.45},
{"month":"Sep","scenario":"Middle of the road","value":1.173},{"month":"Sep","scenario":"Middle of the road","value":0.996},{"month":"Sep","scenario":"Middle of the road","value":0.74},
{"month":"Sep","scenario":"Regional Rivalry","value":1.107},{"month":"Sep","scenario":"Regional Rivalry","value":1.059},
{"month":"Sep","scenario":"Taking the highway","value":1.059},{"month":"Sep","scenario":"Taking the highway","value":0.934},{"month":"Sep","scenario":"Taking the highway","value":0.772},
{"month":"Nov","scenario":"Regional Rivalry","value":1.048},
{"month":"Dec","scenario":"Middle of the road","value":0.724},{"month":"Dec","scenario":"Regional Rivalry","value":0.507},
{"month":"Dec","scenario":"Taking the highway","value":1.112},{"month":"Dec","scenario":"Taking the highway","value":0.84}]
},
"concat":[
{"width":522,"height":234,"layer":[
{"data":{"name":"threshold"},"mark":{"type":"rule","color":"#e8625b","strokeWidth":1.5},"encoding":{"y":{"field":"threshold","type":"quantitative","scale":{"domain":[0,1.25],"nice":false},"title":"Blue water vulnerability","axis":{"values":[0,0.25,0.5,0.75,1],"format":"~g","labels":true}}}},
{"data":{"values":[{}]},"mark":{"type":"rule","color":"#222222","strokeWidth":2.5},"encoding":{"x":{"datum":"Jan","type":"nominal","bandPosition":-0.23,"scale":{"domain":["Jan","Fev","Mar","Apr","May","Jun","Jul","Ago","Sep","Oct","Nov","Dec"],"paddingInner":0,"paddingOuter":0},"title":null,"axis":{"labels":false}},"x2":{"datum":"Dec","bandPosition":1},"y":{"datum":0,"type":"quantitative","scale":{"domain":[0,1.25],"nice":false},"title":"Blue water vulnerability"}}},
{"data":{"name":"box_a"},"mark":{"type":"rule","color":"#555555","strokeWidth":1.5,"clip":true},"encoding":{"x":{"field":"month","type":"nominal","scale":{"domain":["Jan","Fev","Mar","Apr","May","Jun","Jul","Ago","Sep","Oct","Nov","Dec"],"paddingInner":0,"paddingOuter":0},"title":null,"axis":{"labels":false}},"xOffset":{"field":"scenario","type":"nominal","scale":{"domain":["Baseline"],"paddingInner":0,"paddingOuter":0.933}},"y":{"field":"min","type":"quantitative","scale":{"domain":[0,1.25],"nice":false},"title":"Blue water vulnerability"},"y2":{"field":"max"}}},
{"data":{"name":"box_a"},"mark":{"type":"bar","stroke":"#555555","strokeWidth":1.5,"size":9,"clip":true},"encoding":{"x":{"field":"month","type":"nominal","scale":{"domain":["Jan","Fev","Mar","Apr","May","Jun","Jul","Ago","Sep","Oct","Nov","Dec"],"paddingInner":0,"paddingOuter":0},"title":null,"axis":{"labels":false}},"xOffset":{"field":"scenario","type":"nominal","scale":{"domain":["Baseline"],"paddingInner":0,"paddingOuter":0.933}},"y":{"field":"q1","type":"quantitative","scale":{"domain":[0,1.25],"nice":false},"title":"Blue water vulnerability"},"y2":{"field":"q3"},"fill":{"field":"scenario","type":"nominal","title":null,"scale":{"domain":["Baseline","Middle of the road","Regional Rivalry","Taking the highway"],"range":["#f4f4f4","#6bb89e","#eb9370","#8fa0c8"]},"legend":{"orient":"none","legendX":-6,"legendY":1142,"direction":"horizontal","symbolType":"M-1,-0.32H1V0.32H-1Z","symbolSize":1936,"symbolStrokeColor":"#555555","symbolStrokeWidth":1.2,"labelFontSize":21,"labelLimit":0,"labelColor":"#222222","labelOffset":18,"columnPadding":40,"padding":8,"strokeColor":"#dddddd","fillColor":"white","labelExpr":"datum.label == 'Baseline' ? datum.label : '\"' + datum.label + '\"'"}}}},
{"data":{"name":"box_a"},"mark":{"type":"tick","color":"#555555","thickness":1.5,"size":9,"clip":true},"encoding":{"x":{"field":"month","type":"nominal","scale":{"domain":["Jan","Fev","Mar","Apr","May","Jun","Jul","Ago","Sep","Oct","Nov","Dec"],"paddingInner":0,"paddingOuter":0},"title":null,"axis":{"labels":false}},"xOffset":{"field":"scenario","type":"nominal","scale":{"domain":["Baseline"],"paddingInner":0,"paddingOuter":0.933}},"y":{"field":"median","type":"quantitative","scale":{"domain":[0,1.25],"nice":false},"title":"Blue water vulnerability"}}},
{"data":{"name":"box_a"},"mark":{"type":"tick","color":"#555555","thickness":1.5,"size":4.5,"clip":true},"encoding":{"x":{"field":"month","type":"nominal","scale":{"domain":["Jan","Fev","Mar","Apr","May","Jun","Jul","Ago","Sep","Oct","Nov","Dec"],"paddingInner":0,"paddingOuter":0},"title":null,"axis":{"labels":false}},"xOffset":{"field":"scenario","type":"nominal","scale":{"domain":["Baseline"],"paddingInner":0,"paddingOuter":0.933}},"y":{"field":"min","type":"quantitative","scale":{"domain":[0,1.25],"nice":false},"title":"Blue water vulnerability"}}},
{"data":{"name":"box_a"},"mark":{"type":"tick","color":"#555555","thickness":1.5,"size":4.5,"clip":true},"encoding":{"x":{"field":"month","type":"nominal","scale":{"domain":["Jan","Fev","Mar","Apr","May","Jun","Jul","Ago","Sep","Oct","Nov","Dec"],"paddingInner":0,"paddingOuter":0},"title":null,"axis":{"labels":false}},"xOffset":{"field":"scenario","type":"nominal","scale":{"domain":["Baseline"],"paddingInner":0,"paddingOuter":0.933}},"y":{"field":"max","type":"quantitative","scale":{"domain":[0,1.25],"nice":false},"title":"Blue water vulnerability"}}},
{"data":{"name":"out_a"},"mark":{"type":"circle","color":"#555555","size":9,"opacity":1,"clip":true},"encoding":{"x":{"field":"month","type":"nominal","scale":{"domain":["Jan","Fev","Mar","Apr","May","Jun","Jul","Ago","Sep","Oct","Nov","Dec"],"paddingInner":0,"paddingOuter":0},"title":null,"axis":{"labels":false}},"xOffset":{"field":"scenario","type":"nominal","scale":{"domain":["Baseline"],"paddingInner":0,"paddingOuter":0.933}},"y":{"field":"value","type":"quantitative","scale":{"domain":[0,1.25],"nice":false},"title":"Blue water vulnerability"}}},
{"data":{"values":[{"label":"(a)"}]},"mark":{"type":"text","fontSize":23,"fontWeight":"bold","color":"#111111","align":"center","baseline":"middle"},"encoding":{"x":{"datum":"Jan","type":"nominal","bandPosition":-0.05,"title":null},"y":{"datum":1.155,"type":"quantitative","title":"Blue water vulnerability"},"text":{"field":"label"}}},
{"data":{"values":[{"label":"Guariroba River"}]},"mark":{"type":"text","fontSize":24,"color":"#222222","align":"center","baseline":"middle"},"encoding":{"x":{"datum":"Jul","type":"nominal","bandPosition":0,"title":null},"y":{"datum":1.36,"type":"quantitative","title":"Blue water vulnerability"},"text":{"field":"label"}}},
{"data":{"values":[{}]},"mark":{"type":"rule","color":"#333333","strokeWidth":1.5},"encoding":{"x":{"datum":"Jan","type":"nominal","bandPosition":0.02,"title":null},"x2":{"datum":"Apr","bandPosition":0.83},"y":{"datum":1.3925,"type":"quantitative","title":"Blue water vulnerability"}}},
{"data":{"values":[{}]},"mark":{"type":"rule","color":"#333333","strokeWidth":1.5},"encoding":{"x":{"datum":"Sep","type":"nominal","bandPosition":0.13,"title":null},"x2":{"datum":"Dec","bandPosition":0.95},"y":{"datum":1.3925,"type":"quantitative","title":"Blue water vulnerability"}}},
{"data":{"values":[{}]},"mark":{"type":"rule","color":"#333333","strokeWidth":1.5},"encoding":{"x":{"datum":"Jan","type":"nominal","bandPosition":0.02,"title":null},"y":{"datum":1.3925,"type":"quantitative","title":"Blue water vulnerability"},"y2":{"datum":1.355}}},
{"data":{"values":[{}]},"mark":{"type":"rule","color":"#333333","strokeWidth":1.5},"encoding":{"x":{"datum":"Dec","type":"nominal","bandPosition":0.95,"title":null},"y":{"datum":1.3925,"type":"quantitative","title":"Blue water vulnerability"},"y2":{"datum":1.355}}}
]},
{"width":522,"height":234,"layer":[
{"data":{"name":"threshold"},"mark":{"type":"rule","color":"#e8625b","strokeWidth":1.5},"encoding":{"y":{"field":"threshold","type":"quantitative","scale":{"domain":[0,1.25],"nice":false},"title":null,"axis":{"values":[0,0.25,0.5,0.75,1],"format":"~g","labels":false}}}},
{"data":{"values":[{}]},"mark":{"type":"rule","color":"#222222","strokeWidth":2.5},"encoding":{"x":{"datum":"Jan","type":"nominal","bandPosition":-0.23,"scale":{"domain":["Jan","Fev","Mar","Apr","May","Jun","Jul","Ago","Sep","Oct","Nov","Dec"],"paddingInner":0,"paddingOuter":0},"title":null,"axis":{"labels":false}},"x2":{"datum":"Dec","bandPosition":1},"y":{"datum":0,"type":"quantitative","scale":{"domain":[0,1.25],"nice":false},"title":null}}},
{"data":{"name":"box_b"},"mark":{"type":"rule","color":"#555555","strokeWidth":1.5,"clip":true},"encoding":{"x":{"field":"month","type":"nominal","scale":{"domain":["Jan","Fev","Mar","Apr","May","Jun","Jul","Ago","Sep","Oct","Nov","Dec"],"paddingInner":0,"paddingOuter":0},"title":null,"axis":{"labels":false}},"xOffset":{"field":"scenario","type":"nominal","scale":{"domain":["Baseline"],"paddingInner":0,"paddingOuter":0.933}},"y":{"field":"min","type":"quantitative","scale":{"domain":[0,1.25],"nice":false},"title":null},"y2":{"field":"max"}}},
{"data":{"name":"box_b"},"mark":{"type":"bar","stroke":"#555555","strokeWidth":1.5,"size":9,"clip":true},"encoding":{"x":{"field":"month","type":"nominal","scale":{"domain":["Jan","Fev","Mar","Apr","May","Jun","Jul","Ago","Sep","Oct","Nov","Dec"],"paddingInner":0,"paddingOuter":0},"title":null,"axis":{"labels":false}},"xOffset":{"field":"scenario","type":"nominal","scale":{"domain":["Baseline"],"paddingInner":0,"paddingOuter":0.933}},"y":{"field":"q1","type":"quantitative","scale":{"domain":[0,1.25],"nice":false},"title":null},"y2":{"field":"q3"},"fill":{"field":"scenario","type":"nominal","title":null,"scale":{"domain":["Baseline","Middle of the road","Regional Rivalry","Taking the highway"],"range":["#f4f4f4","#6bb89e","#eb9370","#8fa0c8"]},"legend":{"orient":"none","legendX":-6,"legendY":1142,"direction":"horizontal","symbolType":"M-1,-0.32H1V0.32H-1Z","symbolSize":1936,"symbolStrokeColor":"#555555","symbolStrokeWidth":1.2,"labelFontSize":21,"labelLimit":0,"labelColor":"#222222","labelOffset":18,"columnPadding":40,"padding":8,"strokeColor":"#dddddd","fillColor":"white","labelExpr":"datum.label == 'Baseline' ? datum.label : '\"' + datum.label + '\"'"}}}},
{"data":{"name":"box_b"},"mark":{"type":"tick","color":"#555555","thickness":1.5,"size":9,"clip":true},"encoding":{"x":{"field":"month","type":"nominal","scale":{"domain":["Jan","Fev","Mar","Apr","May","Jun","Jul","Ago","Sep","Oct","Nov","Dec"],"paddingInner":0,"paddingOuter":0},"title":null,"axis":{"labels":false}},"xOffset":{"field":"scenario","type":"nominal","scale":{"domain":["Baseline"],"paddingInner":0,"paddingOuter":0.933}},"y":{"field":"median","type":"quantitative","scale":{"domain":[0,1.25],"nice":false},"title":null}}},
{"data":{"name":"box_b"},"mark":{"type":"tick","color":"#555555","thickness":1.5,"size":4.5,"clip":true},"encoding":{"x":{"field":"month","type":"nominal","scale":{"domain":["Jan","Fev","Mar","Apr","May","Jun","Jul","Ago","Sep","Oct","Nov","Dec"],"paddingInner":0,"paddingOuter":0},"title":null,"axis":{"labels":false}},"xOffset":{"field":"scenario","type":"nominal","scale":{"domain":["Baseline"],"paddingInner":0,"paddingOuter":0.933}},"y":{"field":"min","type":"quantitative","scale":{"domain":[0,1.25],"nice":false},"title":null}}},
{"data":{"name":"box_b"},"mark":{"type":"tick","color":"#555555","thickness":1.5,"size":4.5,"clip":true},"encoding":{"x":{"field":"month","type":"nominal","scale":{"domain":["Jan","Fev","Mar","Apr","May","Jun","Jul","Ago","Sep","Oct","Nov","Dec"],"paddingInner":0,"paddingOuter":0},"title":null,"axis":{"labels":false}},"xOffset":{"field":"scenario","type":"nominal","scale":{"domain":["Baseline"],"paddingInner":0,"paddingOuter":0.933}},"y":{"field":"max","type":"quantitative","scale":{"domain":[0,1.25],"nice":false},"title":null}}},
{"data":{"name":"out_b"},"mark":{"type":"circle","color":"#555555","size":9,"opacity":1,"clip":true},"encoding":{"x":{"field":"month","type":"nominal","scale":{"domain":["Jan","Fev","Mar","Apr","May","Jun","Jul","Ago","Sep","Oct","Nov","Dec"],"paddingInner":0,"paddingOuter":0},"title":null,"axis":{"labels":false}},"xOffset":{"field":"scenario","type":"nominal","scale":{"domain":["Baseline"],"paddingInner":0,"paddingOuter":0.933}},"y":{"field":"value","type":"quantitative","scale":{"domain":[0,1.25],"nice":false},"title":null}}},
{"data":{"values":[{"label":"(b)"}]},"mark":{"type":"text","fontSize":23,"fontWeight":"bold","color":"#111111","align":"center","baseline":"middle"},"encoding":{"x":{"datum":"Jan","type":"nominal","bandPosition":-0.07,"title":null},"y":{"datum":1.155,"type":"quantitative","title":null},"text":{"field":"label"}}},
{"data":{"values":[{"label":"Security threshold"}]},"mark":{"type":"text","fontSize":24,"fontWeight":"bold","color":"#d7301f","align":"right","baseline":"middle"},"encoding":{"x":{"datum":"Dec","type":"nominal","bandPosition":0.36,"title":null},"y":{"datum":0.933,"type":"quantitative","title":null},"text":{"field":"label"}}},
{"data":{"values":[{"label":"Baseline"}]},"mark":{"type":"text","fontSize":24,"color":"#222222","align":"center","baseline":"middle","angle":90},"encoding":{"x":{"datum":"Dec","type":"nominal","bandPosition":1.42,"title":null},"y":{"datum":0.625,"type":"quantitative","title":null},"text":{"field":"label"}}},
{"data":{"values":[{"label":"Jaguari River"}]},"mark":{"type":"text","fontSize":24,"color":"#222222","align":"center","baseline":"middle"},"encoding":{"x":{"datum":"Jul","type":"nominal","bandPosition":-0.03,"title":null},"y":{"datum":1.36,"type":"quantitative","title":null},"text":{"field":"label"}}},
{"data":{"values":[{}]},"mark":{"type":"rule","color":"#333333","strokeWidth":1.5},"encoding":{"x":{"datum":"Jan","type":"nominal","bandPosition":0.3,"title":null},"x2":{"datum":"May","bandPosition":0.15},"y":{"datum":1.3925,"type":"quantitative","title":null}}},
{"data":{"values":[{}]},"mark":{"type":"rule","color":"#333333","strokeWidth":1.5},"encoding":{"x":{"datum":"Ago","type":"nominal","bandPosition":0.86,"title":null},"x2":{"datum":"Dec","bandPosition":0.73},"y":{"datum":1.3925,"type":"quantitative","title":null}}},
{"data":{"values":[{}]},"mark":{"type":"rule","color":"#333333","strokeWidth":1.5},"encoding":{"x":{"datum":"Jan","type":"nominal","bandPosition":0.3,"title":null},"y":{"datum":1.3925,"type":"quantitative","title":null},"y2":{"datum":1.355}}},
{"data":{"values":[{}]},"mark":{"type":"rule","color":"#333333","strokeWidth":1.5},"encoding":{"x":{"datum":"Dec","type":"nominal","bandPosition":0.73,"title":null},"y":{"datum":1.3925,"type":"quantitative","title":null},"y2":{"datum":1.355}}}
]},
{"width":522,"height":234,"layer":[
{"data":{"name":"threshold"},"mark":{"type":"rule","color":"#ee8a82","strokeWidth":1.5},"encoding":{"y":{"field":"threshold","type":"quantitative","scale":{"domain":[0,1.25],"nice":false},"title":"Blue water vulnerability","axis":{"values":[0,0.25,0.5,0.75,1],"format":"~g","labels":true}}}},
{"data":{"values":[{}]},"mark":{"type":"rule","color":"#222222","strokeWidth":2.5},"encoding":{"x":{"datum":"Jan","type":"nominal","bandPosition":-0.23,"scale":{"domain":["Jan","Fev","Mar","Apr","May","Jun","Jul","Ago","Sep","Oct","Nov","Dec"],"paddingInner":0,"paddingOuter":0},"title":null,"axis":{"labels":false}},"x2":{"datum":"Dec","bandPosition":1},"y":{"datum":0,"type":"quantitative","scale":{"domain":[0,1.25],"nice":false},"title":"Blue water vulnerability"}}},
{"data":{"name":"box_c"},"mark":{"type":"rule","color":"#555555","strokeWidth":1.5,"clip":true},"encoding":{"x":{"field":"month","type":"nominal","scale":{"domain":["Jan","Fev","Mar","Apr","May","Jun","Jul","Ago","Sep","Oct","Nov","Dec"],"paddingInner":0,"paddingOuter":0},"title":null,"axis":{"labels":false}},"xOffset":{"field":"scenario","type":"nominal","scale":{"domain":["Middle of the road","Regional Rivalry","Taking the highway"],"paddingInner":0,"paddingOuter":0.933}},"y":{"field":"min","type":"quantitative","scale":{"domain":[0,1.25],"nice":false},"title":"Blue water vulnerability"},"y2":{"field":"max"}}},
{"data":{"name":"box_c"},"mark":{"type":"bar","stroke":"#555555","strokeWidth":1.5,"size":8,"clip":true},"encoding":{"x":{"field":"month","type":"nominal","scale":{"domain":["Jan","Fev","Mar","Apr","May","Jun","Jul","Ago","Sep","Oct","Nov","Dec"],"paddingInner":0,"paddingOuter":0},"title":null,"axis":{"labels":false}},"xOffset":{"field":"scenario","type":"nominal","scale":{"domain":["Middle of the road","Regional Rivalry","Taking the highway"],"paddingInner":0,"paddingOuter":0.933}},"y":{"field":"q1","type":"quantitative","scale":{"domain":[0,1.25],"nice":false},"title":"Blue water vulnerability"},"y2":{"field":"q3"},"fill":{"field":"scenario","type":"nominal","title":null,"scale":{"domain":["Baseline","Middle of the road","Regional Rivalry","Taking the highway"],"range":["#f4f4f4","#6bb89e","#eb9370","#8fa0c8"]},"legend":{"orient":"none","legendX":-6,"legendY":1142,"direction":"horizontal","symbolType":"M-1,-0.32H1V0.32H-1Z","symbolSize":1936,"symbolStrokeColor":"#555555","symbolStrokeWidth":1.2,"labelFontSize":21,"labelLimit":0,"labelColor":"#222222","labelOffset":18,"columnPadding":40,"padding":8,"strokeColor":"#dddddd","fillColor":"white","labelExpr":"datum.label == 'Baseline' ? datum.label : '\"' + datum.label + '\"'"}}}},
{"data":{"name":"box_c"},"mark":{"type":"tick","color":"#555555","thickness":1.5,"size":8,"clip":true},"encoding":{"x":{"field":"month","type":"nominal","scale":{"domain":["Jan","Fev","Mar","Apr","May","Jun","Jul","Ago","Sep","Oct","Nov","Dec"],"paddingInner":0,"paddingOuter":0},"title":null,"axis":{"labels":false}},"xOffset":{"field":"scenario","type":"nominal","scale":{"domain":["Middle of the road","Regional Rivalry","Taking the highway"],"paddingInner":0,"paddingOuter":0.933}},"y":{"field":"median","type":"quantitative","scale":{"domain":[0,1.25],"nice":false},"title":"Blue water vulnerability"}}},
{"data":{"name":"box_c"},"mark":{"type":"tick","color":"#555555","thickness":1.5,"size":4,"clip":true},"encoding":{"x":{"field":"month","type":"nominal","scale":{"domain":["Jan","Fev","Mar","Apr","May","Jun","Jul","Ago","Sep","Oct","Nov","Dec"],"paddingInner":0,"paddingOuter":0},"title":null,"axis":{"labels":false}},"xOffset":{"field":"scenario","type":"nominal","scale":{"domain":["Middle of the road","Regional Rivalry","Taking the highway"],"paddingInner":0,"paddingOuter":0.933}},"y":{"field":"min","type":"quantitative","scale":{"domain":[0,1.25],"nice":false},"title":"Blue water vulnerability"}}},
{"data":{"name":"box_c"},"mark":{"type":"tick","color":"#555555","thickness":1.5,"size":4,"clip":true},"encoding":{"x":{"field":"month","type":"nominal","scale":{"domain":["Jan","Fev","Mar","Apr","May","Jun","Jul","Ago","Sep","Oct","Nov","Dec"],"paddingInner":0,"paddingOuter":0},"title":null,"axis":{"labels":false}},"xOffset":{"field":"scenario","type":"nominal","scale":{"domain":["Middle of the road","Regional Rivalry","Taking the highway"],"paddingInner":0,"paddingOuter":0.933}},"y":{"field":"max","type":"quantitative","scale":{"domain":[0,1.25],"nice":false},"title":"Blue water vulnerability"}}},
{"data":{"name":"out_c"},"mark":{"type":"circle","color":"#555555","size":9,"opacity":1,"clip":true},"encoding":{"x":{"field":"month","type":"nominal","scale":{"domain":["Jan","Fev","Mar","Apr","May","Jun","Jul","Ago","Sep","Oct","Nov","Dec"],"paddingInner":0,"paddingOuter":0},"title":null,"axis":{"labels":false}},"xOffset":{"field":"scenario","type":"nominal","scale":{"domain":["Middle of the road","Regional Rivalry","Taking the highway"],"paddingInner":0,"paddingOuter":0.933}},"y":{"field":"value","type":"quantitative","scale":{"domain":[0,1.25],"nice":false},"title":"Blue water vulnerability"}}},
{"data":{"values":[{"label":"(c)"}]},"mark":{"type":"text","fontSize":23,"fontWeight":"bold","color":"#111111","align":"center","baseline":"middle"},"encoding":{"x":{"datum":"Jan","type":"nominal","bandPosition":-0.05,"title":null},"y":{"datum":1.285,"type":"quantitative","title":"Blue water vulnerability"},"text":{"field":"label"}}}
]},
{"width":522,"height":234,"layer":[
{"data":{"name":"threshold"},"mark":{"type":"rule","color":"#ee8a82","strokeWidth":1.5},"encoding":{"y":{"field":"threshold","type":"quantitative","scale":{"domain":[0,1.25],"nice":false},"title":null,"axis":{"values":[0,0.25,0.5,0.75,1],"format":"~g","labels":false}}}},
{"data":{"values":[{}]},"mark":{"type":"rule","color":"#222222","strokeWidth":2.5},"encoding":{"x":{"datum":"Jan","type":"nominal","bandPosition":-0.23,"scale":{"domain":["Jan","Fev","Mar","Apr","May","Jun","Jul","Ago","Sep","Oct","Nov","Dec"],"paddingInner":0,"paddingOuter":0},"title":null,"axis":{"labels":false}},"x2":{"datum":"Dec","bandPosition":1},"y":{"datum":0,"type":"quantitative","scale":{"domain":[0,1.25],"nice":false},"title":null}}},
{"data":{"name":"box_d"},"mark":{"type":"rule","color":"#555555","strokeWidth":1.5,"clip":true},"encoding":{"x":{"field":"month","type":"nominal","scale":{"domain":["Jan","Fev","Mar","Apr","May","Jun","Jul","Ago","Sep","Oct","Nov","Dec"],"paddingInner":0,"paddingOuter":0},"title":null,"axis":{"labels":false}},"xOffset":{"field":"scenario","type":"nominal","scale":{"domain":["Middle of the road","Regional Rivalry","Taking the highway"],"paddingInner":0,"paddingOuter":0.933}},"y":{"field":"min","type":"quantitative","scale":{"domain":[0,1.25],"nice":false},"title":null},"y2":{"field":"max"}}},
{"data":{"name":"box_d"},"mark":{"type":"bar","stroke":"#555555","strokeWidth":1.5,"size":8,"clip":true},"encoding":{"x":{"field":"month","type":"nominal","scale":{"domain":["Jan","Fev","Mar","Apr","May","Jun","Jul","Ago","Sep","Oct","Nov","Dec"],"paddingInner":0,"paddingOuter":0},"title":null,"axis":{"labels":false}},"xOffset":{"field":"scenario","type":"nominal","scale":{"domain":["Middle of the road","Regional Rivalry","Taking the highway"],"paddingInner":0,"paddingOuter":0.933}},"y":{"field":"q1","type":"quantitative","scale":{"domain":[0,1.25],"nice":false},"title":null},"y2":{"field":"q3"},"fill":{"field":"scenario","type":"nominal","title":null,"scale":{"domain":["Baseline","Middle of the road","Regional Rivalry","Taking the highway"],"range":["#f4f4f4","#6bb89e","#eb9370","#8fa0c8"]},"legend":{"orient":"none","legendX":-6,"legendY":1142,"direction":"horizontal","symbolType":"M-1,-0.32H1V0.32H-1Z","symbolSize":1936,"symbolStrokeColor":"#555555","symbolStrokeWidth":1.2,"labelFontSize":21,"labelLimit":0,"labelColor":"#222222","labelOffset":18,"columnPadding":40,"padding":8,"strokeColor":"#dddddd","fillColor":"white","labelExpr":"datum.label == 'Baseline' ? datum.label : '\"' + datum.label + '\"'"}}}},
{"data":{"name":"box_d"},"mark":{"type":"tick","color":"#555555","thickness":1.5,"size":8,"clip":true},"encoding":{"x":{"field":"month","type":"nominal","scale":{"domain":["Jan","Fev","Mar","Apr","May","Jun","Jul","Ago","Sep","Oct","Nov","Dec"],"paddingInner":0,"paddingOuter":0},"title":null,"axis":{"labels":false}},"xOffset":{"field":"scenario","type":"nominal","scale":{"domain":["Middle of the road","Regional Rivalry","Taking the highway"],"paddingInner":0,"paddingOuter":0.933}},"y":{"field":"median","type":"quantitative","scale":{"domain":[0,1.25],"nice":false},"title":null}}},
{"data":{"name":"box_d"},"mark":{"type":"tick","color":"#555555","thickness":1.5,"size":4,"clip":true},"encoding":{"x":{"field":"month","type":"nominal","scale":{"domain":["Jan","Fev","Mar","Apr","May","Jun","Jul","Ago","Sep","Oct","Nov","Dec"],"paddingInner":0,"paddingOuter":0},"title":null,"axis":{"labels":false}},"xOffset":{"field":"scenario","type":"nominal","scale":{"domain":["Middle of the road","Regional Rivalry","Taking the highway"],"paddingInner":0,"paddingOuter":0.933}},"y":{"field":"min","type":"quantitative","scale":{"domain":[0,1.25],"nice":false},"title":null}}},
{"data":{"name":"box_d"},"mark":{"type":"tick","color":"#555555","thickness":1.5,"size":4,"clip":true},"encoding":{"x":{"field":"month","type":"nominal","scale":{"domain":["Jan","Fev","Mar","Apr","May","Jun","Jul","Ago","Sep","Oct","Nov","Dec"],"paddingInner":0,"paddingOuter":0},"title":null,"axis":{"labels":false}},"xOffset":{"field":"scenario","type":"nominal","scale":{"domain":["Middle of the road","Regional Rivalry","Taking the highway"],"paddingInner":0,"paddingOuter":0.933}},"y":{"field":"max","type":"quantitative","scale":{"domain":[0,1.25],"nice":false},"title":null}}},
{"data":{"name":"out_d"},"mark":{"type":"circle","color":"#555555","size":9,"opacity":1,"clip":true},"encoding":{"x":{"field":"month","type":"nominal","scale":{"domain":["Jan","Fev","Mar","Apr","May","Jun","Jul","Ago","Sep","Oct","Nov","Dec"],"paddingInner":0,"paddingOuter":0},"title":null,"axis":{"labels":false}},"xOffset":{"field":"scenario","type":"nominal","scale":{"domain":["Middle of the road","Regional Rivalry","Taking the highway"],"paddingInner":0,"paddingOuter":0.933}},"y":{"field":"value","type":"quantitative","scale":{"domain":[0,1.25],"nice":false},"title":null}}},
{"data":{"values":[{"label":"(d)"}]},"mark":{"type":"text","fontSize":23,"fontWeight":"bold","color":"#111111","align":"center","baseline":"middle"},"encoding":{"x":{"datum":"Jan","type":"nominal","bandPosition":-0.07,"title":null},"y":{"datum":1.285,"type":"quantitative","title":null},"text":{"field":"label"}}},
{"data":{"values":[{"label":"Immediate future"}]},"mark":{"type":"text","fontSize":24,"color":"#222222","align":"center","baseline":"middle","angle":90},"encoding":{"x":{"datum":"Dec","type":"nominal","bandPosition":1.42,"title":null},"y":{"datum":0.625,"type":"quantitative","title":null},"text":{"field":"label"}}}
]},
{"width":522,"height":234,"layer":[
{"data":{"name":"threshold"},"mark":{"type":"rule","color":"#ee8a82","strokeWidth":1.5},"encoding":{"y":{"field":"threshold","type":"quantitative","scale":{"domain":[0,1.25],"nice":false},"title":"Blue water vulnerability","axis":{"values":[0,0.25,0.5,0.75,1],"format":"~g","labels":true}}}},
{"data":{"values":[{}]},"mark":{"type":"rule","color":"#222222","strokeWidth":2.5},"encoding":{"x":{"datum":"Jan","type":"nominal","bandPosition":-0.23,"scale":{"domain":["Jan","Fev","Mar","Apr","May","Jun","Jul","Ago","Sep","Oct","Nov","Dec"],"paddingInner":0,"paddingOuter":0},"title":null,"axis":{"labels":false}},"x2":{"datum":"Dec","bandPosition":1},"y":{"datum":0,"type":"quantitative","scale":{"domain":[0,1.25],"nice":false},"title":"Blue water vulnerability"}}},
{"data":{"name":"box_e"},"mark":{"type":"rule","color":"#555555","strokeWidth":1.5,"clip":true},"encoding":{"x":{"field":"month","type":"nominal","scale":{"domain":["Jan","Fev","Mar","Apr","May","Jun","Jul","Ago","Sep","Oct","Nov","Dec"],"paddingInner":0,"paddingOuter":0},"title":null,"axis":{"labels":false}},"xOffset":{"field":"scenario","type":"nominal","scale":{"domain":["Middle of the road","Regional Rivalry","Taking the highway"],"paddingInner":0,"paddingOuter":0.933}},"y":{"field":"min","type":"quantitative","scale":{"domain":[0,1.25],"nice":false},"title":"Blue water vulnerability"},"y2":{"field":"max"}}},
{"data":{"name":"box_e"},"mark":{"type":"bar","stroke":"#555555","strokeWidth":1.5,"size":8,"clip":true},"encoding":{"x":{"field":"month","type":"nominal","scale":{"domain":["Jan","Fev","Mar","Apr","May","Jun","Jul","Ago","Sep","Oct","Nov","Dec"],"paddingInner":0,"paddingOuter":0},"title":null,"axis":{"labels":false}},"xOffset":{"field":"scenario","type":"nominal","scale":{"domain":["Middle of the road","Regional Rivalry","Taking the highway"],"paddingInner":0,"paddingOuter":0.933}},"y":{"field":"q1","type":"quantitative","scale":{"domain":[0,1.25],"nice":false},"title":"Blue water vulnerability"},"y2":{"field":"q3"},"fill":{"field":"scenario","type":"nominal","title":null,"scale":{"domain":["Baseline","Middle of the road","Regional Rivalry","Taking the highway"],"range":["#f4f4f4","#6bb89e","#eb9370","#8fa0c8"]},"legend":{"orient":"none","legendX":-6,"legendY":1142,"direction":"horizontal","symbolType":"M-1,-0.32H1V0.32H-1Z","symbolSize":1936,"symbolStrokeColor":"#555555","symbolStrokeWidth":1.2,"labelFontSize":21,"labelLimit":0,"labelColor":"#222222","labelOffset":18,"columnPadding":40,"padding":8,"strokeColor":"#dddddd","fillColor":"white","labelExpr":"datum.label == 'Baseline' ? datum.label : '\"' + datum.label + '\"'"}}}},
{"data":{"name":"box_e"},"mark":{"type":"tick","color":"#555555","thickness":1.5,"size":8,"clip":true},"encoding":{"x":{"field":"month","type":"nominal","scale":{"domain":["Jan","Fev","Mar","Apr","May","Jun","Jul","Ago","Sep","Oct","Nov","Dec"],"paddingInner":0,"paddingOuter":0},"title":null,"axis":{"labels":false}},"xOffset":{"field":"scenario","type":"nominal","scale":{"domain":["Middle of the road","Regional Rivalry","Taking the highway"],"paddingInner":0,"paddingOuter":0.933}},"y":{"field":"median","type":"quantitative","scale":{"domain":[0,1.25],"nice":false},"title":"Blue water vulnerability"}}},
{"data":{"name":"box_e"},"mark":{"type":"tick","color":"#555555","thickness":1.5,"size":4,"clip":true},"encoding":{"x":{"field":"month","type":"nominal","scale":{"domain":["Jan","Fev","Mar","Apr","May","Jun","Jul","Ago","Sep","Oct","Nov","Dec"],"paddingInner":0,"paddingOuter":0},"title":null,"axis":{"labels":false}},"xOffset":{"field":"scenario","type":"nominal","scale":{"domain":["Middle of the road","Regional Rivalry","Taking the highway"],"paddingInner":0,"paddingOuter":0.933}},"y":{"field":"min","type":"quantitative","scale":{"domain":[0,1.25],"nice":false},"title":"Blue water vulnerability"}}},
{"data":{"name":"box_e"},"mark":{"type":"tick","color":"#555555","thickness":1.5,"size":4,"clip":true},"encoding":{"x":{"field":"month","type":"nominal","scale":{"domain":["Jan","Fev","Mar","Apr","May","Jun","Jul","Ago","Sep","Oct","Nov","Dec"],"paddingInner":0,"paddingOuter":0},"title":null,"axis":{"labels":false}},"xOffset":{"field":"scenario","type":"nominal","scale":{"domain":["Middle of the road","Regional Rivalry","Taking the highway"],"paddingInner":0,"paddingOuter":0.933}},"y":{"field":"max","type":"quantitative","scale":{"domain":[0,1.25],"nice":false},"title":"Blue water vulnerability"}}},
{"data":{"name":"out_e"},"mark":{"type":"circle","color":"#555555","size":9,"opacity":1,"clip":true},"encoding":{"x":{"field":"month","type":"nominal","scale":{"domain":["Jan","Fev","Mar","Apr","May","Jun","Jul","Ago","Sep","Oct","Nov","Dec"],"paddingInner":0,"paddingOuter":0},"title":null,"axis":{"labels":false}},"xOffset":{"field":"scenario","type":"nominal","scale":{"domain":["Middle of the road","Regional Rivalry","Taking the highway"],"paddingInner":0,"paddingOuter":0.933}},"y":{"field":"value","type":"quantitative","scale":{"domain":[0,1.25],"nice":false},"title":"Blue water vulnerability"}}},
{"data":{"values":[{"label":"(e)"}]},"mark":{"type":"text","fontSize":23,"fontWeight":"bold","color":"#111111","align":"center","baseline":"middle"},"encoding":{"x":{"datum":"Jan","type":"nominal","bandPosition":-0.05,"title":null},"y":{"datum":1.31,"type":"quantitative","title":"Blue water vulnerability"},"text":{"field":"label"}}}
]},
{"width":522,"height":234,"layer":[
{"data":{"name":"threshold"},"mark":{"type":"rule","color":"#ee8a82","strokeWidth":1.5},"encoding":{"y":{"field":"threshold","type":"quantitative","scale":{"domain":[0,1.25],"nice":false},"title":null,"axis":{"values":[0,0.25,0.5,0.75,1],"format":"~g","labels":false}}}},
{"data":{"values":[{}]},"mark":{"type":"rule","color":"#222222","strokeWidth":2.5},"encoding":{"x":{"datum":"Jan","type":"nominal","bandPosition":-0.23,"scale":{"domain":["Jan","Fev","Mar","Apr","May","Jun","Jul","Ago","Sep","Oct","Nov","Dec"],"paddingInner":0,"paddingOuter":0},"title":null,"axis":{"labels":false}},"x2":{"datum":"Dec","bandPosition":1},"y":{"datum":0,"type":"quantitative","scale":{"domain":[0,1.25],"nice":false},"title":null}}},
{"data":{"name":"box_f"},"mark":{"type":"rule","color":"#555555","strokeWidth":1.5,"clip":true},"encoding":{"x":{"field":"month","type":"nominal","scale":{"domain":["Jan","Fev","Mar","Apr","May","Jun","Jul","Ago","Sep","Oct","Nov","Dec"],"paddingInner":0,"paddingOuter":0},"title":null,"axis":{"labels":false}},"xOffset":{"field":"scenario","type":"nominal","scale":{"domain":["Middle of the road","Regional Rivalry","Taking the highway"],"paddingInner":0,"paddingOuter":0.933}},"y":{"field":"min","type":"quantitative","scale":{"domain":[0,1.25],"nice":false},"title":null},"y2":{"field":"max"}}},
{"data":{"name":"box_f"},"mark":{"type":"bar","stroke":"#555555","strokeWidth":1.5,"size":8,"clip":true},"encoding":{"x":{"field":"month","type":"nominal","scale":{"domain":["Jan","Fev","Mar","Apr","May","Jun","Jul","Ago","Sep","Oct","Nov","Dec"],"paddingInner":0,"paddingOuter":0},"title":null,"axis":{"labels":false}},"xOffset":{"field":"scenario","type":"nominal","scale":{"domain":["Middle of the road","Regional Rivalry","Taking the highway"],"paddingInner":0,"paddingOuter":0.933}},"y":{"field":"q1","type":"quantitative","scale":{"domain":[0,1.25],"nice":false},"title":null},"y2":{"field":"q3"},"fill":{"field":"scenario","type":"nominal","title":null,"scale":{"domain":["Baseline","Middle of the road","Regional Rivalry","Taking the highway"],"range":["#f4f4f4","#6bb89e","#eb9370","#8fa0c8"]},"legend":{"orient":"none","legendX":-6,"legendY":1142,"direction":"horizontal","symbolType":"M-1,-0.32H1V0.32H-1Z","symbolSize":1936,"symbolStrokeColor":"#555555","symbolStrokeWidth":1.2,"labelFontSize":21,"labelLimit":0,"labelColor":"#222222","labelOffset":18,"columnPadding":40,"padding":8,"strokeColor":"#dddddd","fillColor":"white","labelExpr":"datum.label == 'Baseline' ? datum.label : '\"' + datum.label + '\"'"}}}},
{"data":{"name":"box_f"},"mark":{"type":"tick","color":"#555555","thickness":1.5,"size":8,"clip":true},"encoding":{"x":{"field":"month","type":"nominal","scale":{"domain":["Jan","Fev","Mar","Apr","May","Jun","Jul","Ago","Sep","Oct","Nov","Dec"],"paddingInner":0,"paddingOuter":0},"title":null,"axis":{"labels":false}},"xOffset":{"field":"scenario","type":"nominal","scale":{"domain":["Middle of the road","Regional Rivalry","Taking the highway"],"paddingInner":0,"paddingOuter":0.933}},"y":{"field":"median","type":"quantitative","scale":{"domain":[0,1.25],"nice":false},"title":null}}},
{"data":{"name":"box_f"},"mark":{"type":"tick","color":"#555555","thickness":1.5,"size":4,"clip":true},"encoding":{"x":{"field":"month","type":"nominal","scale":{"domain":["Jan","Fev","Mar","Apr","May","Jun","Jul","Ago","Sep","Oct","Nov","Dec"],"paddingInner":0,"paddingOuter":0},"title":null,"axis":{"labels":false}},"xOffset":{"field":"scenario","type":"nominal","scale":{"domain":["Middle of the road","Regional Rivalry","Taking the highway"],"paddingInner":0,"paddingOuter":0.933}},"y":{"field":"min","type":"quantitative","scale":{"domain":[0,1.25],"nice":false},"title":null}}},
{"data":{"name":"box_f"},"mark":{"type":"tick","color":"#555555","thickness":1.5,"size":4,"clip":true},"encoding":{"x":{"field":"month","type":"nominal","scale":{"domain":["Jan","Fev","Mar","Apr","May","Jun","Jul","Ago","Sep","Oct","Nov","Dec"],"paddingInner":0,"paddingOuter":0},"title":null,"axis":{"labels":false}},"xOffset":{"field":"scenario","type":"nominal","scale":{"domain":["Middle of the road","Regional Rivalry","Taking the highway"],"paddingInner":0,"paddingOuter":0.933}},"y":{"field":"max","type":"quantitative","scale":{"domain":[0,1.25],"nice":false},"title":null}}},
{"data":{"name":"out_f"},"mark":{"type":"circle","color":"#555555","size":9,"opacity":1,"clip":true},"encoding":{"x":{"field":"month","type":"nominal","scale":{"domain":["Jan","Fev","Mar","Apr","May","Jun","Jul","Ago","Sep","Oct","Nov","Dec"],"paddingInner":0,"paddingOuter":0},"title":null,"axis":{"labels":false}},"xOffset":{"field":"scenario","type":"nominal","scale":{"domain":["Middle of the road","Regional Rivalry","Taking the highway"],"paddingInner":0,"paddingOuter":0.933}},"y":{"field":"value","type":"quantitative","scale":{"domain":[0,1.25],"nice":false},"title":null}}},
{"data":{"values":[{"label":"(f)"}]},"mark":{"type":"text","fontSize":23,"fontWeight":"bold","color":"#111111","align":"center","baseline":"middle"},"encoding":{"x":{"datum":"Jan","type":"nominal","bandPosition":-0.07,"title":null},"y":{"datum":1.31,"type":"quantitative","title":null},"text":{"field":"label"}}},
{"data":{"values":[{"label":"Intermediate future"}]},"mark":{"type":"text","fontSize":24,"color":"#222222","align":"center","baseline":"middle","angle":90},"encoding":{"x":{"datum":"Dec","type":"nominal","bandPosition":1.42,"title":null},"y":{"datum":0.625,"type":"quantitative","title":null},"text":{"field":"label"}}}
]},
{"width":522,"height":234,"layer":[
{"data":{"name":"threshold"},"mark":{"type":"rule","color":"#e3392e","strokeWidth":1.5},"encoding":{"y":{"field":"threshold","type":"quantitative","scale":{"domain":[0,1.25],"nice":false},"title":"Blue water vulnerability","axis":{"values":[0,0.25,0.5,0.75,1],"format":"~g","labels":true}}}},
{"data":{"values":[{}]},"mark":{"type":"rule","color":"#222222","strokeWidth":2.5},"encoding":{"x":{"datum":"Jan","type":"nominal","bandPosition":-0.23,"scale":{"domain":["Jan","Fev","Mar","Apr","May","Jun","Jul","Ago","Sep","Oct","Nov","Dec"],"paddingInner":0,"paddingOuter":0},"title":null,"axis":{"labels":true}},"x2":{"datum":"Dec","bandPosition":1},"y":{"datum":0,"type":"quantitative","scale":{"domain":[0,1.25],"nice":false},"title":"Blue water vulnerability"}}},
{"data":{"name":"box_g"},"mark":{"type":"rule","color":"#555555","strokeWidth":1.5,"clip":true},"encoding":{"x":{"field":"month","type":"nominal","scale":{"domain":["Jan","Fev","Mar","Apr","May","Jun","Jul","Ago","Sep","Oct","Nov","Dec"],"paddingInner":0,"paddingOuter":0},"title":null,"axis":{"labels":true}},"xOffset":{"field":"scenario","type":"nominal","scale":{"domain":["Middle of the road","Regional Rivalry","Taking the highway"],"paddingInner":0,"paddingOuter":0.933}},"y":{"field":"min","type":"quantitative","scale":{"domain":[0,1.25],"nice":false},"title":"Blue water vulnerability"},"y2":{"field":"max"}}},
{"data":{"name":"box_g"},"mark":{"type":"bar","stroke":"#555555","strokeWidth":1.5,"size":8,"clip":true},"encoding":{"x":{"field":"month","type":"nominal","scale":{"domain":["Jan","Fev","Mar","Apr","May","Jun","Jul","Ago","Sep","Oct","Nov","Dec"],"paddingInner":0,"paddingOuter":0},"title":null,"axis":{"labels":true}},"xOffset":{"field":"scenario","type":"nominal","scale":{"domain":["Middle of the road","Regional Rivalry","Taking the highway"],"paddingInner":0,"paddingOuter":0.933}},"y":{"field":"q1","type":"quantitative","scale":{"domain":[0,1.25],"nice":false},"title":"Blue water vulnerability"},"y2":{"field":"q3"},"fill":{"field":"scenario","type":"nominal","title":null,"scale":{"domain":["Baseline","Middle of the road","Regional Rivalry","Taking the highway"],"range":["#f4f4f4","#6bb89e","#eb9370","#8fa0c8"]},"legend":{"orient":"none","legendX":-6,"legendY":1142,"direction":"horizontal","symbolType":"M-1,-0.32H1V0.32H-1Z","symbolSize":1936,"symbolStrokeColor":"#555555","symbolStrokeWidth":1.2,"labelFontSize":21,"labelLimit":0,"labelColor":"#222222","labelOffset":18,"columnPadding":40,"padding":8,"strokeColor":"#dddddd","fillColor":"white","labelExpr":"datum.label == 'Baseline' ? datum.label : '\"' + datum.label + '\"'"}}}},
{"data":{"name":"box_g"},"mark":{"type":"tick","color":"#555555","thickness":1.5,"size":8,"clip":true},"encoding":{"x":{"field":"month","type":"nominal","scale":{"domain":["Jan","Fev","Mar","Apr","May","Jun","Jul","Ago","Sep","Oct","Nov","Dec"],"paddingInner":0,"paddingOuter":0},"title":null,"axis":{"labels":true}},"xOffset":{"field":"scenario","type":"nominal","scale":{"domain":["Middle of the road","Regional Rivalry","Taking the highway"],"paddingInner":0,"paddingOuter":0.933}},"y":{"field":"median","type":"quantitative","scale":{"domain":[0,1.25],"nice":false},"title":"Blue water vulnerability"}}},
{"data":{"name":"box_g"},"mark":{"type":"tick","color":"#555555","thickness":1.5,"size":4,"clip":true},"encoding":{"x":{"field":"month","type":"nominal","scale":{"domain":["Jan","Fev","Mar","Apr","May","Jun","Jul","Ago","Sep","Oct","Nov","Dec"],"paddingInner":0,"paddingOuter":0},"title":null,"axis":{"labels":true}},"xOffset":{"field":"scenario","type":"nominal","scale":{"domain":["Middle of the road","Regional Rivalry","Taking the highway"],"paddingInner":0,"paddingOuter":0.933}},"y":{"field":"min","type":"quantitative","scale":{"domain":[0,1.25],"nice":false},"title":"Blue water vulnerability"}}},
{"data":{"name":"box_g"},"mark":{"type":"tick","color":"#555555","thickness":1.5,"size":4,"clip":true},"encoding":{"x":{"field":"month","type":"nominal","scale":{"domain":["Jan","Fev","Mar","Apr","May","Jun","Jul","Ago","Sep","Oct","Nov","Dec"],"paddingInner":0,"paddingOuter":0},"title":null,"axis":{"labels":true}},"xOffset":{"field":"scenario","type":"nominal","scale":{"domain":["Middle of the road","Regional Rivalry","Taking the highway"],"paddingInner":0,"paddingOuter":0.933}},"y":{"field":"max","type":"quantitative","scale":{"domain":[0,1.25],"nice":false},"title":"Blue water vulnerability"}}},
{"data":{"name":"out_g"},"mark":{"type":"circle","color":"#555555","size":9,"opacity":1,"clip":true},"encoding":{"x":{"field":"month","type":"nominal","scale":{"domain":["Jan","Fev","Mar","Apr","May","Jun","Jul","Ago","Sep","Oct","Nov","Dec"],"paddingInner":0,"paddingOuter":0},"title":null,"axis":{"labels":true}},"xOffset":{"field":"scenario","type":"nominal","scale":{"domain":["Middle of the road","Regional Rivalry","Taking the highway"],"paddingInner":0,"paddingOuter":0.933}},"y":{"field":"value","type":"quantitative","scale":{"domain":[0,1.25],"nice":false},"title":"Blue water vulnerability"}}},
{"data":{"values":[{"label":"(g)"}]},"mark":{"type":"text","fontSize":23,"fontWeight":"bold","color":"#111111","align":"center","baseline":"middle"},"encoding":{"x":{"datum":"Jan","type":"nominal","bandPosition":-0.05,"title":null},"y":{"datum":1.31,"type":"quantitative","title":"Blue water vulnerability"},"text":{"field":"label"}}}
]},
{"width":522,"height":234,"layer":[
{"data":{"name":"threshold"},"mark":{"type":"rule","color":"#e3392e","strokeWidth":1.5},"encoding":{"y":{"field":"threshold","type":"quantitative","scale":{"domain":[0,1.25],"nice":false},"title":null,"axis":{"values":[0,0.25,0.5,0.75,1],"format":"~g","labels":false}}}},
{"data":{"values":[{}]},"mark":{"type":"rule","color":"#222222","strokeWidth":2.5},"encoding":{"x":{"datum":"Jan","type":"nominal","bandPosition":-0.23,"scale":{"domain":["Jan","Fev","Mar","Apr","May","Jun","Jul","Ago","Sep","Oct","Nov","Dec"],"paddingInner":0,"paddingOuter":0},"title":null,"axis":{"labels":true}},"x2":{"datum":"Dec","bandPosition":1},"y":{"datum":0,"type":"quantitative","scale":{"domain":[0,1.25],"nice":false},"title":null}}},
{"data":{"name":"box_h"},"mark":{"type":"rule","color":"#555555","strokeWidth":1.5,"clip":true},"encoding":{"x":{"field":"month","type":"nominal","scale":{"domain":["Jan","Fev","Mar","Apr","May","Jun","Jul","Ago","Sep","Oct","Nov","Dec"],"paddingInner":0,"paddingOuter":0},"title":null,"axis":{"labels":true}},"xOffset":{"field":"scenario","type":"nominal","scale":{"domain":["Middle of the road","Regional Rivalry","Taking the highway"],"paddingInner":0,"paddingOuter":0.933}},"y":{"field":"min","type":"quantitative","scale":{"domain":[0,1.25],"nice":false},"title":null},"y2":{"field":"max"}}},
{"data":{"name":"box_h"},"mark":{"type":"bar","stroke":"#555555","strokeWidth":1.5,"size":8,"clip":true},"encoding":{"x":{"field":"month","type":"nominal","scale":{"domain":["Jan","Fev","Mar","Apr","May","Jun","Jul","Ago","Sep","Oct","Nov","Dec"],"paddingInner":0,"paddingOuter":0},"title":null,"axis":{"labels":true}},"xOffset":{"field":"scenario","type":"nominal","scale":{"domain":["Middle of the road","Regional Rivalry","Taking the highway"],"paddingInner":0,"paddingOuter":0.933}},"y":{"field":"q1","type":"quantitative","scale":{"domain":[0,1.25],"nice":false},"title":null},"y2":{"field":"q3"},"fill":{"field":"scenario","type":"nominal","title":null,"scale":{"domain":["Baseline","Middle of the road","Regional Rivalry","Taking the highway"],"range":["#f4f4f4","#6bb89e","#eb9370","#8fa0c8"]},"legend":{"orient":"none","legendX":-6,"legendY":1142,"direction":"horizontal","symbolType":"M-1,-0.32H1V0.32H-1Z","symbolSize":1936,"symbolStrokeColor":"#555555","symbolStrokeWidth":1.2,"labelFontSize":21,"labelLimit":0,"labelColor":"#222222","labelOffset":18,"columnPadding":40,"padding":8,"strokeColor":"#dddddd","fillColor":"white","labelExpr":"datum.label == 'Baseline' ? datum.label : '\"' + datum.label + '\"'"}}}},
{"data":{"name":"box_h"},"mark":{"type":"tick","color":"#555555","thickness":1.5,"size":8,"clip":true},"encoding":{"x":{"field":"month","type":"nominal","scale":{"domain":["Jan","Fev","Mar","Apr","May","Jun","Jul","Ago","Sep","Oct","Nov","Dec"],"paddingInner":0,"paddingOuter":0},"title":null,"axis":{"labels":true}},"xOffset":{"field":"scenario","type":"nominal","scale":{"domain":["Middle of the road","Regional Rivalry","Taking the highway"],"paddingInner":0,"paddingOuter":0.933}},"y":{"field":"median","type":"quantitative","scale":{"domain":[0,1.25],"nice":false},"title":null}}},
{"data":{"name":"box_h"},"mark":{"type":"tick","color":"#555555","thickness":1.5,"size":4,"clip":true},"encoding":{"x":{"field":"month","type":"nominal","scale":{"domain":["Jan","Fev","Mar","Apr","May","Jun","Jul","Ago","Sep","Oct","Nov","Dec"],"paddingInner":0,"paddingOuter":0},"title":null,"axis":{"labels":true}},"xOffset":{"field":"scenario","type":"nominal","scale":{"domain":["Middle of the road","Regional Rivalry","Taking the highway"],"paddingInner":0,"paddingOuter":0.933}},"y":{"field":"min","type":"quantitative","scale":{"domain":[0,1.25],"nice":false},"title":null}}},
{"data":{"name":"box_h"},"mark":{"type":"tick","color":"#555555","thickness":1.5,"size":4,"clip":true},"encoding":{"x":{"field":"month","type":"nominal","scale":{"domain":["Jan","Fev","Mar","Apr","May","Jun","Jul","Ago","Sep","Oct","Nov","Dec"],"paddingInner":0,"paddingOuter":0},"title":null,"axis":{"labels":true}},"xOffset":{"field":"scenario","type":"nominal","scale":{"domain":["Middle of the road","Regional Rivalry","Taking the highway"],"paddingInner":0,"paddingOuter":0.933}},"y":{"field":"max","type":"quantitative","scale":{"domain":[0,1.25],"nice":false},"title":null}}},
{"data":{"name":"out_h"},"mark":{"type":"circle","color":"#555555","size":9,"opacity":1,"clip":true},"encoding":{"x":{"field":"month","type":"nominal","scale":{"domain":["Jan","Fev","Mar","Apr","May","Jun","Jul","Ago","Sep","Oct","Nov","Dec"],"paddingInner":0,"paddingOuter":0},"title":null,"axis":{"labels":true}},"xOffset":{"field":"scenario","type":"nominal","scale":{"domain":["Middle of the road","Regional Rivalry","Taking the highway"],"paddingInner":0,"paddingOuter":0.933}},"y":{"field":"value","type":"quantitative","scale":{"domain":[0,1.25],"nice":false},"title":null}}},
{"data":{"values":[{"label":"(h)"}]},"mark":{"type":"text","fontSize":23,"fontWeight":"bold","color":"#111111","align":"center","baseline":"middle"},"encoding":{"x":{"datum":"Jan","type":"nominal","bandPosition":-0.07,"title":null},"y":{"datum":1.31,"type":"quantitative","title":null},"text":{"field":"label"}}},
{"data":{"values":[{"label":"Distant future"}]},"mark":{"type":"text","fontSize":24,"color":"#222222","align":"center","baseline":"middle","angle":90},"encoding":{"x":{"datum":"Dec","type":"nominal","bandPosition":1.42,"title":null},"y":{"datum":0.625,"type":"quantitative","title":null},"text":{"field":"label"}}}
]}
],
"columns":2,
"spacing":{"row":53,"column":24},
"bounds":"flush",
"resolve":{"scale":{"xOffset":"independent"}},
"config":{
"font":"Liberation Sans",
"view":{"stroke":null},
"axis":{"grid":false,"domainColor":"#222222","tickColor":"#222222","labelColor":"#333333","titleColor":"#222222","titleFontWeight":"normal"},
"axisX":{"domain":false,"tickSize":11,"tickWidth":2,"labelAngle":-45,"labelAlign":"center","labelBaseline":"middle","labelFontSize":16,"labelPadding":20},
"axisY":{"domain":false,"tickSize":11,"tickWidth":2.5,"labelFontSize":17,"labelPadding":7,"titleFontSize":24,"titlePadding":8}
}
}
